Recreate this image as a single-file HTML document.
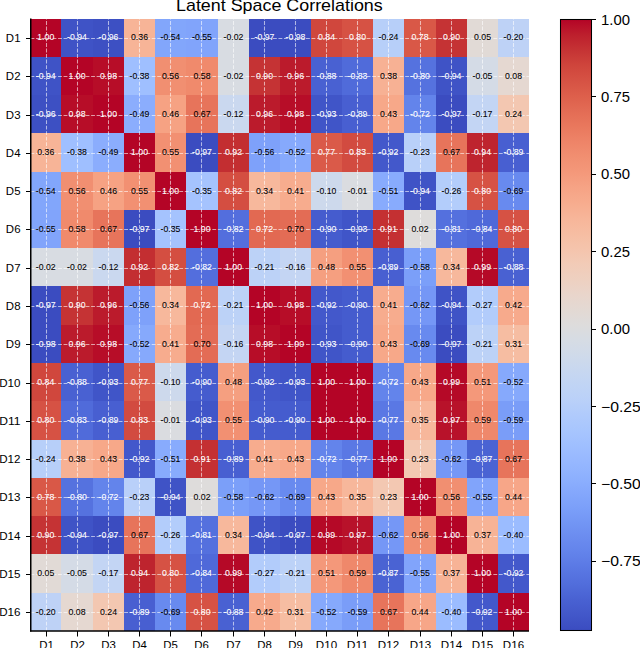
<!DOCTYPE html>
<html><head><meta charset="utf-8"><style>html,body{margin:0;padding:0;background:#fff;width:640px;height:648px;overflow:hidden}</style></head><body>
<svg width="640" height="648" viewBox="0 0 640 648" style="display:block;font-family:'Liberation Sans',sans-serif">
<rect width="640" height="648" fill="#fff"/>
<rect x="30.50" y="18.50" width="30.50" height="38.28" fill="#b40426" shape-rendering="crispEdges"/>
<rect x="61.00" y="18.50" width="32.00" height="38.28" fill="#3f53c6" shape-rendering="crispEdges"/>
<rect x="93.00" y="18.50" width="31.00" height="38.28" fill="#3d50c3" shape-rendering="crispEdges"/>
<rect x="124.00" y="18.50" width="31.00" height="38.28" fill="#f7b497" shape-rendering="crispEdges"/>
<rect x="155.00" y="18.50" width="31.00" height="38.28" fill="#82a6fb" shape-rendering="crispEdges"/>
<rect x="186.00" y="18.50" width="32.00" height="38.28" fill="#81a4fb" shape-rendering="crispEdges"/>
<rect x="218.00" y="18.50" width="31.00" height="38.28" fill="#d8dce2" shape-rendering="crispEdges"/>
<rect x="249.00" y="18.50" width="31.00" height="38.28" fill="#3b4cc0" shape-rendering="crispEdges"/>
<rect x="280.00" y="18.50" width="31.00" height="38.28" fill="#3b4cc0" shape-rendering="crispEdges"/>
<rect x="311.00" y="18.50" width="31.00" height="38.28" fill="#d0473d" shape-rendering="crispEdges"/>
<rect x="342.00" y="18.50" width="31.00" height="38.28" fill="#d65244" shape-rendering="crispEdges"/>
<rect x="373.00" y="18.50" width="31.00" height="38.28" fill="#b7cff9" shape-rendering="crispEdges"/>
<rect x="404.00" y="18.50" width="32.00" height="38.28" fill="#d95847" shape-rendering="crispEdges"/>
<rect x="436.00" y="18.50" width="31.00" height="38.28" fill="#c53334" shape-rendering="crispEdges"/>
<rect x="467.00" y="18.50" width="31.00" height="38.28" fill="#e1dad6" shape-rendering="crispEdges"/>
<rect x="498.00" y="18.50" width="31.00" height="38.28" fill="#bed2f6" shape-rendering="crispEdges"/>
<rect x="30.50" y="56.78" width="30.50" height="38.28" fill="#3f53c6" shape-rendering="crispEdges"/>
<rect x="61.00" y="56.78" width="32.00" height="38.28" fill="#b40426" shape-rendering="crispEdges"/>
<rect x="93.00" y="56.78" width="31.00" height="38.28" fill="#b70d28" shape-rendering="crispEdges"/>
<rect x="124.00" y="56.78" width="31.00" height="38.28" fill="#9fbfff" shape-rendering="crispEdges"/>
<rect x="155.00" y="56.78" width="31.00" height="38.28" fill="#f18f71" shape-rendering="crispEdges"/>
<rect x="186.00" y="56.78" width="32.00" height="38.28" fill="#f08a6c" shape-rendering="crispEdges"/>
<rect x="218.00" y="56.78" width="31.00" height="38.28" fill="#d8dce2" shape-rendering="crispEdges"/>
<rect x="249.00" y="56.78" width="31.00" height="38.28" fill="#c53334" shape-rendering="crispEdges"/>
<rect x="280.00" y="56.78" width="31.00" height="38.28" fill="#bb1b2c" shape-rendering="crispEdges"/>
<rect x="311.00" y="56.78" width="31.00" height="38.28" fill="#4961d2" shape-rendering="crispEdges"/>
<rect x="342.00" y="56.78" width="31.00" height="38.28" fill="#506bda" shape-rendering="crispEdges"/>
<rect x="373.00" y="56.78" width="31.00" height="38.28" fill="#f7b194" shape-rendering="crispEdges"/>
<rect x="404.00" y="56.78" width="32.00" height="38.28" fill="#5572df" shape-rendering="crispEdges"/>
<rect x="436.00" y="56.78" width="31.00" height="38.28" fill="#3f53c6" shape-rendering="crispEdges"/>
<rect x="467.00" y="56.78" width="31.00" height="38.28" fill="#d4dbe6" shape-rendering="crispEdges"/>
<rect x="498.00" y="56.78" width="31.00" height="38.28" fill="#e5d8d1" shape-rendering="crispEdges"/>
<rect x="30.50" y="95.06" width="30.50" height="38.28" fill="#3d50c3" shape-rendering="crispEdges"/>
<rect x="61.00" y="95.06" width="32.00" height="38.28" fill="#b70d28" shape-rendering="crispEdges"/>
<rect x="93.00" y="95.06" width="31.00" height="38.28" fill="#b40426" shape-rendering="crispEdges"/>
<rect x="124.00" y="95.06" width="31.00" height="38.28" fill="#8badfd" shape-rendering="crispEdges"/>
<rect x="155.00" y="95.06" width="31.00" height="38.28" fill="#f6a283" shape-rendering="crispEdges"/>
<rect x="186.00" y="95.06" width="32.00" height="38.28" fill="#e7745b" shape-rendering="crispEdges"/>
<rect x="218.00" y="95.06" width="31.00" height="38.28" fill="#cad8ef" shape-rendering="crispEdges"/>
<rect x="249.00" y="95.06" width="31.00" height="38.28" fill="#bb1b2c" shape-rendering="crispEdges"/>
<rect x="280.00" y="95.06" width="31.00" height="38.28" fill="#b70d28" shape-rendering="crispEdges"/>
<rect x="311.00" y="95.06" width="31.00" height="38.28" fill="#4055c8" shape-rendering="crispEdges"/>
<rect x="342.00" y="95.06" width="31.00" height="38.28" fill="#485fd1" shape-rendering="crispEdges"/>
<rect x="373.00" y="95.06" width="31.00" height="38.28" fill="#f7a889" shape-rendering="crispEdges"/>
<rect x="404.00" y="95.06" width="32.00" height="38.28" fill="#6384eb" shape-rendering="crispEdges"/>
<rect x="436.00" y="95.06" width="31.00" height="38.28" fill="#3b4cc0" shape-rendering="crispEdges"/>
<rect x="467.00" y="95.06" width="31.00" height="38.28" fill="#c3d5f4" shape-rendering="crispEdges"/>
<rect x="498.00" y="95.06" width="31.00" height="38.28" fill="#f3c7b1" shape-rendering="crispEdges"/>
<rect x="30.50" y="133.34" width="30.50" height="38.28" fill="#f7b497" shape-rendering="crispEdges"/>
<rect x="61.00" y="133.34" width="32.00" height="38.28" fill="#9fbfff" shape-rendering="crispEdges"/>
<rect x="93.00" y="133.34" width="31.00" height="38.28" fill="#8badfd" shape-rendering="crispEdges"/>
<rect x="124.00" y="133.34" width="31.00" height="38.28" fill="#b40426" shape-rendering="crispEdges"/>
<rect x="155.00" y="133.34" width="31.00" height="38.28" fill="#f29072" shape-rendering="crispEdges"/>
<rect x="186.00" y="133.34" width="32.00" height="38.28" fill="#3b4cc0" shape-rendering="crispEdges"/>
<rect x="218.00" y="133.34" width="31.00" height="38.28" fill="#c32e31" shape-rendering="crispEdges"/>
<rect x="249.00" y="133.34" width="31.00" height="38.28" fill="#7ea1fa" shape-rendering="crispEdges"/>
<rect x="280.00" y="133.34" width="31.00" height="38.28" fill="#86a9fc" shape-rendering="crispEdges"/>
<rect x="311.00" y="133.34" width="31.00" height="38.28" fill="#da5a49" shape-rendering="crispEdges"/>
<rect x="342.00" y="133.34" width="31.00" height="38.28" fill="#d24b40" shape-rendering="crispEdges"/>
<rect x="373.00" y="133.34" width="31.00" height="38.28" fill="#4358cb" shape-rendering="crispEdges"/>
<rect x="404.00" y="133.34" width="32.00" height="38.28" fill="#b9d0f9" shape-rendering="crispEdges"/>
<rect x="436.00" y="133.34" width="31.00" height="38.28" fill="#e7745b" shape-rendering="crispEdges"/>
<rect x="467.00" y="133.34" width="31.00" height="38.28" fill="#be242e" shape-rendering="crispEdges"/>
<rect x="498.00" y="133.34" width="31.00" height="38.28" fill="#485fd1" shape-rendering="crispEdges"/>
<rect x="30.50" y="171.62" width="30.50" height="38.28" fill="#82a6fb" shape-rendering="crispEdges"/>
<rect x="61.00" y="171.62" width="32.00" height="38.28" fill="#f18f71" shape-rendering="crispEdges"/>
<rect x="93.00" y="171.62" width="31.00" height="38.28" fill="#f6a283" shape-rendering="crispEdges"/>
<rect x="124.00" y="171.62" width="31.00" height="38.28" fill="#f29072" shape-rendering="crispEdges"/>
<rect x="155.00" y="171.62" width="31.00" height="38.28" fill="#b40426" shape-rendering="crispEdges"/>
<rect x="186.00" y="171.62" width="32.00" height="38.28" fill="#a5c3fe" shape-rendering="crispEdges"/>
<rect x="218.00" y="171.62" width="31.00" height="38.28" fill="#d44e41" shape-rendering="crispEdges"/>
<rect x="249.00" y="171.62" width="31.00" height="38.28" fill="#f7b89c" shape-rendering="crispEdges"/>
<rect x="280.00" y="171.62" width="31.00" height="38.28" fill="#f7ac8e" shape-rendering="crispEdges"/>
<rect x="311.00" y="171.62" width="31.00" height="38.28" fill="#cdd9ec" shape-rendering="crispEdges"/>
<rect x="342.00" y="171.62" width="31.00" height="38.28" fill="#dadce0" shape-rendering="crispEdges"/>
<rect x="373.00" y="171.62" width="31.00" height="38.28" fill="#88abfd" shape-rendering="crispEdges"/>
<rect x="404.00" y="171.62" width="32.00" height="38.28" fill="#3f53c6" shape-rendering="crispEdges"/>
<rect x="436.00" y="171.62" width="31.00" height="38.28" fill="#b3cdfb" shape-rendering="crispEdges"/>
<rect x="467.00" y="171.62" width="31.00" height="38.28" fill="#d65244" shape-rendering="crispEdges"/>
<rect x="498.00" y="171.62" width="31.00" height="38.28" fill="#688aef" shape-rendering="crispEdges"/>
<rect x="30.50" y="209.91" width="30.50" height="38.28" fill="#81a4fb" shape-rendering="crispEdges"/>
<rect x="61.00" y="209.91" width="32.00" height="38.28" fill="#f08a6c" shape-rendering="crispEdges"/>
<rect x="93.00" y="209.91" width="31.00" height="38.28" fill="#e7745b" shape-rendering="crispEdges"/>
<rect x="124.00" y="209.91" width="31.00" height="38.28" fill="#3b4cc0" shape-rendering="crispEdges"/>
<rect x="155.00" y="209.91" width="31.00" height="38.28" fill="#a5c3fe" shape-rendering="crispEdges"/>
<rect x="186.00" y="209.91" width="32.00" height="38.28" fill="#b40426" shape-rendering="crispEdges"/>
<rect x="218.00" y="209.91" width="31.00" height="38.28" fill="#536edd" shape-rendering="crispEdges"/>
<rect x="249.00" y="209.91" width="31.00" height="38.28" fill="#e26952" shape-rendering="crispEdges"/>
<rect x="280.00" y="209.91" width="31.00" height="38.28" fill="#e36c55" shape-rendering="crispEdges"/>
<rect x="311.00" y="209.91" width="31.00" height="38.28" fill="#455cce" shape-rendering="crispEdges"/>
<rect x="342.00" y="209.91" width="31.00" height="38.28" fill="#4055c8" shape-rendering="crispEdges"/>
<rect x="373.00" y="209.91" width="31.00" height="38.28" fill="#c43032" shape-rendering="crispEdges"/>
<rect x="404.00" y="209.91" width="32.00" height="38.28" fill="#dedcdb" shape-rendering="crispEdges"/>
<rect x="436.00" y="209.91" width="31.00" height="38.28" fill="#5470de" shape-rendering="crispEdges"/>
<rect x="467.00" y="209.91" width="31.00" height="38.28" fill="#4f69d9" shape-rendering="crispEdges"/>
<rect x="498.00" y="209.91" width="31.00" height="38.28" fill="#d65244" shape-rendering="crispEdges"/>
<rect x="30.50" y="248.19" width="30.50" height="38.28" fill="#d8dce2" shape-rendering="crispEdges"/>
<rect x="61.00" y="248.19" width="32.00" height="38.28" fill="#d8dce2" shape-rendering="crispEdges"/>
<rect x="93.00" y="248.19" width="31.00" height="38.28" fill="#cad8ef" shape-rendering="crispEdges"/>
<rect x="124.00" y="248.19" width="31.00" height="38.28" fill="#c32e31" shape-rendering="crispEdges"/>
<rect x="155.00" y="248.19" width="31.00" height="38.28" fill="#d44e41" shape-rendering="crispEdges"/>
<rect x="186.00" y="248.19" width="32.00" height="38.28" fill="#536edd" shape-rendering="crispEdges"/>
<rect x="218.00" y="248.19" width="31.00" height="38.28" fill="#b40426" shape-rendering="crispEdges"/>
<rect x="249.00" y="248.19" width="31.00" height="38.28" fill="#bcd2f7" shape-rendering="crispEdges"/>
<rect x="280.00" y="248.19" width="31.00" height="38.28" fill="#c4d5f3" shape-rendering="crispEdges"/>
<rect x="311.00" y="248.19" width="31.00" height="38.28" fill="#f59f80" shape-rendering="crispEdges"/>
<rect x="342.00" y="248.19" width="31.00" height="38.28" fill="#f29072" shape-rendering="crispEdges"/>
<rect x="373.00" y="248.19" width="31.00" height="38.28" fill="#485fd1" shape-rendering="crispEdges"/>
<rect x="404.00" y="248.19" width="32.00" height="38.28" fill="#7b9ff9" shape-rendering="crispEdges"/>
<rect x="436.00" y="248.19" width="31.00" height="38.28" fill="#f7b89c" shape-rendering="crispEdges"/>
<rect x="467.00" y="248.19" width="31.00" height="38.28" fill="#b50927" shape-rendering="crispEdges"/>
<rect x="498.00" y="248.19" width="31.00" height="38.28" fill="#4961d2" shape-rendering="crispEdges"/>
<rect x="30.50" y="286.47" width="30.50" height="38.28" fill="#3b4cc0" shape-rendering="crispEdges"/>
<rect x="61.00" y="286.47" width="32.00" height="38.28" fill="#c53334" shape-rendering="crispEdges"/>
<rect x="93.00" y="286.47" width="31.00" height="38.28" fill="#bb1b2c" shape-rendering="crispEdges"/>
<rect x="124.00" y="286.47" width="31.00" height="38.28" fill="#7ea1fa" shape-rendering="crispEdges"/>
<rect x="155.00" y="286.47" width="31.00" height="38.28" fill="#f7b89c" shape-rendering="crispEdges"/>
<rect x="186.00" y="286.47" width="32.00" height="38.28" fill="#e26952" shape-rendering="crispEdges"/>
<rect x="218.00" y="286.47" width="31.00" height="38.28" fill="#bcd2f7" shape-rendering="crispEdges"/>
<rect x="249.00" y="286.47" width="31.00" height="38.28" fill="#b40426" shape-rendering="crispEdges"/>
<rect x="280.00" y="286.47" width="31.00" height="38.28" fill="#b70d28" shape-rendering="crispEdges"/>
<rect x="311.00" y="286.47" width="31.00" height="38.28" fill="#4358cb" shape-rendering="crispEdges"/>
<rect x="342.00" y="286.47" width="31.00" height="38.28" fill="#455cce" shape-rendering="crispEdges"/>
<rect x="373.00" y="286.47" width="31.00" height="38.28" fill="#f7ac8e" shape-rendering="crispEdges"/>
<rect x="404.00" y="286.47" width="32.00" height="38.28" fill="#7597f6" shape-rendering="crispEdges"/>
<rect x="436.00" y="286.47" width="31.00" height="38.28" fill="#3f53c6" shape-rendering="crispEdges"/>
<rect x="467.00" y="286.47" width="31.00" height="38.28" fill="#b2ccfb" shape-rendering="crispEdges"/>
<rect x="498.00" y="286.47" width="31.00" height="38.28" fill="#f7aa8c" shape-rendering="crispEdges"/>
<rect x="30.50" y="324.75" width="30.50" height="38.28" fill="#3b4cc0" shape-rendering="crispEdges"/>
<rect x="61.00" y="324.75" width="32.00" height="38.28" fill="#bb1b2c" shape-rendering="crispEdges"/>
<rect x="93.00" y="324.75" width="31.00" height="38.28" fill="#b70d28" shape-rendering="crispEdges"/>
<rect x="124.00" y="324.75" width="31.00" height="38.28" fill="#86a9fc" shape-rendering="crispEdges"/>
<rect x="155.00" y="324.75" width="31.00" height="38.28" fill="#f7ac8e" shape-rendering="crispEdges"/>
<rect x="186.00" y="324.75" width="32.00" height="38.28" fill="#e36c55" shape-rendering="crispEdges"/>
<rect x="218.00" y="324.75" width="31.00" height="38.28" fill="#c4d5f3" shape-rendering="crispEdges"/>
<rect x="249.00" y="324.75" width="31.00" height="38.28" fill="#b70d28" shape-rendering="crispEdges"/>
<rect x="280.00" y="324.75" width="31.00" height="38.28" fill="#b40426" shape-rendering="crispEdges"/>
<rect x="311.00" y="324.75" width="31.00" height="38.28" fill="#4055c8" shape-rendering="crispEdges"/>
<rect x="342.00" y="324.75" width="31.00" height="38.28" fill="#455cce" shape-rendering="crispEdges"/>
<rect x="373.00" y="324.75" width="31.00" height="38.28" fill="#f7a889" shape-rendering="crispEdges"/>
<rect x="404.00" y="324.75" width="32.00" height="38.28" fill="#688aef" shape-rendering="crispEdges"/>
<rect x="436.00" y="324.75" width="31.00" height="38.28" fill="#3b4cc0" shape-rendering="crispEdges"/>
<rect x="467.00" y="324.75" width="31.00" height="38.28" fill="#bcd2f7" shape-rendering="crispEdges"/>
<rect x="498.00" y="324.75" width="31.00" height="38.28" fill="#f6bda2" shape-rendering="crispEdges"/>
<rect x="30.50" y="363.03" width="30.50" height="38.28" fill="#d0473d" shape-rendering="crispEdges"/>
<rect x="61.00" y="363.03" width="32.00" height="38.28" fill="#4961d2" shape-rendering="crispEdges"/>
<rect x="93.00" y="363.03" width="31.00" height="38.28" fill="#4055c8" shape-rendering="crispEdges"/>
<rect x="124.00" y="363.03" width="31.00" height="38.28" fill="#da5a49" shape-rendering="crispEdges"/>
<rect x="155.00" y="363.03" width="31.00" height="38.28" fill="#cdd9ec" shape-rendering="crispEdges"/>
<rect x="186.00" y="363.03" width="32.00" height="38.28" fill="#455cce" shape-rendering="crispEdges"/>
<rect x="218.00" y="363.03" width="31.00" height="38.28" fill="#f59f80" shape-rendering="crispEdges"/>
<rect x="249.00" y="363.03" width="31.00" height="38.28" fill="#4358cb" shape-rendering="crispEdges"/>
<rect x="280.00" y="363.03" width="31.00" height="38.28" fill="#4055c8" shape-rendering="crispEdges"/>
<rect x="311.00" y="363.03" width="31.00" height="38.28" fill="#b40426" shape-rendering="crispEdges"/>
<rect x="342.00" y="363.03" width="31.00" height="38.28" fill="#b40426" shape-rendering="crispEdges"/>
<rect x="373.00" y="363.03" width="31.00" height="38.28" fill="#6384eb" shape-rendering="crispEdges"/>
<rect x="404.00" y="363.03" width="32.00" height="38.28" fill="#f7a889" shape-rendering="crispEdges"/>
<rect x="436.00" y="363.03" width="31.00" height="38.28" fill="#b50927" shape-rendering="crispEdges"/>
<rect x="467.00" y="363.03" width="31.00" height="38.28" fill="#f4987a" shape-rendering="crispEdges"/>
<rect x="498.00" y="363.03" width="31.00" height="38.28" fill="#86a9fc" shape-rendering="crispEdges"/>
<rect x="30.50" y="401.31" width="30.50" height="38.28" fill="#d65244" shape-rendering="crispEdges"/>
<rect x="61.00" y="401.31" width="32.00" height="38.28" fill="#506bda" shape-rendering="crispEdges"/>
<rect x="93.00" y="401.31" width="31.00" height="38.28" fill="#485fd1" shape-rendering="crispEdges"/>
<rect x="124.00" y="401.31" width="31.00" height="38.28" fill="#d24b40" shape-rendering="crispEdges"/>
<rect x="155.00" y="401.31" width="31.00" height="38.28" fill="#dadce0" shape-rendering="crispEdges"/>
<rect x="186.00" y="401.31" width="32.00" height="38.28" fill="#4055c8" shape-rendering="crispEdges"/>
<rect x="218.00" y="401.31" width="31.00" height="38.28" fill="#f29072" shape-rendering="crispEdges"/>
<rect x="249.00" y="401.31" width="31.00" height="38.28" fill="#455cce" shape-rendering="crispEdges"/>
<rect x="280.00" y="401.31" width="31.00" height="38.28" fill="#455cce" shape-rendering="crispEdges"/>
<rect x="311.00" y="401.31" width="31.00" height="38.28" fill="#b40426" shape-rendering="crispEdges"/>
<rect x="342.00" y="401.31" width="31.00" height="38.28" fill="#b40426" shape-rendering="crispEdges"/>
<rect x="373.00" y="401.31" width="31.00" height="38.28" fill="#5a78e4" shape-rendering="crispEdges"/>
<rect x="404.00" y="401.31" width="32.00" height="38.28" fill="#f7b79b" shape-rendering="crispEdges"/>
<rect x="436.00" y="401.31" width="31.00" height="38.28" fill="#b8122a" shape-rendering="crispEdges"/>
<rect x="467.00" y="401.31" width="31.00" height="38.28" fill="#ef886b" shape-rendering="crispEdges"/>
<rect x="498.00" y="401.31" width="31.00" height="38.28" fill="#7a9df8" shape-rendering="crispEdges"/>
<rect x="30.50" y="439.59" width="30.50" height="38.28" fill="#b7cff9" shape-rendering="crispEdges"/>
<rect x="61.00" y="439.59" width="32.00" height="38.28" fill="#f7b194" shape-rendering="crispEdges"/>
<rect x="93.00" y="439.59" width="31.00" height="38.28" fill="#f7a889" shape-rendering="crispEdges"/>
<rect x="124.00" y="439.59" width="31.00" height="38.28" fill="#4358cb" shape-rendering="crispEdges"/>
<rect x="155.00" y="439.59" width="31.00" height="38.28" fill="#88abfd" shape-rendering="crispEdges"/>
<rect x="186.00" y="439.59" width="32.00" height="38.28" fill="#c43032" shape-rendering="crispEdges"/>
<rect x="218.00" y="439.59" width="31.00" height="38.28" fill="#485fd1" shape-rendering="crispEdges"/>
<rect x="249.00" y="439.59" width="31.00" height="38.28" fill="#f7ac8e" shape-rendering="crispEdges"/>
<rect x="280.00" y="439.59" width="31.00" height="38.28" fill="#f7a889" shape-rendering="crispEdges"/>
<rect x="311.00" y="439.59" width="31.00" height="38.28" fill="#6384eb" shape-rendering="crispEdges"/>
<rect x="342.00" y="439.59" width="31.00" height="38.28" fill="#5a78e4" shape-rendering="crispEdges"/>
<rect x="373.00" y="439.59" width="31.00" height="38.28" fill="#b40426" shape-rendering="crispEdges"/>
<rect x="404.00" y="439.59" width="32.00" height="38.28" fill="#f3c8b2" shape-rendering="crispEdges"/>
<rect x="436.00" y="439.59" width="31.00" height="38.28" fill="#7597f6" shape-rendering="crispEdges"/>
<rect x="467.00" y="439.59" width="31.00" height="38.28" fill="#4a63d3" shape-rendering="crispEdges"/>
<rect x="498.00" y="439.59" width="31.00" height="38.28" fill="#e7745b" shape-rendering="crispEdges"/>
<rect x="30.50" y="477.88" width="30.50" height="38.28" fill="#d95847" shape-rendering="crispEdges"/>
<rect x="61.00" y="477.88" width="32.00" height="38.28" fill="#5572df" shape-rendering="crispEdges"/>
<rect x="93.00" y="477.88" width="31.00" height="38.28" fill="#6384eb" shape-rendering="crispEdges"/>
<rect x="124.00" y="477.88" width="31.00" height="38.28" fill="#b9d0f9" shape-rendering="crispEdges"/>
<rect x="155.00" y="477.88" width="31.00" height="38.28" fill="#3f53c6" shape-rendering="crispEdges"/>
<rect x="186.00" y="477.88" width="32.00" height="38.28" fill="#dedcdb" shape-rendering="crispEdges"/>
<rect x="218.00" y="477.88" width="31.00" height="38.28" fill="#7b9ff9" shape-rendering="crispEdges"/>
<rect x="249.00" y="477.88" width="31.00" height="38.28" fill="#7597f6" shape-rendering="crispEdges"/>
<rect x="280.00" y="477.88" width="31.00" height="38.28" fill="#688aef" shape-rendering="crispEdges"/>
<rect x="311.00" y="477.88" width="31.00" height="38.28" fill="#f7a889" shape-rendering="crispEdges"/>
<rect x="342.00" y="477.88" width="31.00" height="38.28" fill="#f7b79b" shape-rendering="crispEdges"/>
<rect x="373.00" y="477.88" width="31.00" height="38.28" fill="#f3c8b2" shape-rendering="crispEdges"/>
<rect x="404.00" y="477.88" width="32.00" height="38.28" fill="#b40426" shape-rendering="crispEdges"/>
<rect x="436.00" y="477.88" width="31.00" height="38.28" fill="#f18f71" shape-rendering="crispEdges"/>
<rect x="467.00" y="477.88" width="31.00" height="38.28" fill="#81a4fb" shape-rendering="crispEdges"/>
<rect x="498.00" y="477.88" width="31.00" height="38.28" fill="#f7a688" shape-rendering="crispEdges"/>
<rect x="30.50" y="516.16" width="30.50" height="38.28" fill="#c53334" shape-rendering="crispEdges"/>
<rect x="61.00" y="516.16" width="32.00" height="38.28" fill="#3f53c6" shape-rendering="crispEdges"/>
<rect x="93.00" y="516.16" width="31.00" height="38.28" fill="#3b4cc0" shape-rendering="crispEdges"/>
<rect x="124.00" y="516.16" width="31.00" height="38.28" fill="#e7745b" shape-rendering="crispEdges"/>
<rect x="155.00" y="516.16" width="31.00" height="38.28" fill="#b3cdfb" shape-rendering="crispEdges"/>
<rect x="186.00" y="516.16" width="32.00" height="38.28" fill="#5470de" shape-rendering="crispEdges"/>
<rect x="218.00" y="516.16" width="31.00" height="38.28" fill="#f7b89c" shape-rendering="crispEdges"/>
<rect x="249.00" y="516.16" width="31.00" height="38.28" fill="#3f53c6" shape-rendering="crispEdges"/>
<rect x="280.00" y="516.16" width="31.00" height="38.28" fill="#3b4cc0" shape-rendering="crispEdges"/>
<rect x="311.00" y="516.16" width="31.00" height="38.28" fill="#b50927" shape-rendering="crispEdges"/>
<rect x="342.00" y="516.16" width="31.00" height="38.28" fill="#b8122a" shape-rendering="crispEdges"/>
<rect x="373.00" y="516.16" width="31.00" height="38.28" fill="#7597f6" shape-rendering="crispEdges"/>
<rect x="404.00" y="516.16" width="32.00" height="38.28" fill="#f18f71" shape-rendering="crispEdges"/>
<rect x="436.00" y="516.16" width="31.00" height="38.28" fill="#b40426" shape-rendering="crispEdges"/>
<rect x="467.00" y="516.16" width="31.00" height="38.28" fill="#f7b396" shape-rendering="crispEdges"/>
<rect x="498.00" y="516.16" width="31.00" height="38.28" fill="#9bbcff" shape-rendering="crispEdges"/>
<rect x="30.50" y="554.44" width="30.50" height="38.28" fill="#e1dad6" shape-rendering="crispEdges"/>
<rect x="61.00" y="554.44" width="32.00" height="38.28" fill="#d4dbe6" shape-rendering="crispEdges"/>
<rect x="93.00" y="554.44" width="31.00" height="38.28" fill="#c3d5f4" shape-rendering="crispEdges"/>
<rect x="124.00" y="554.44" width="31.00" height="38.28" fill="#be242e" shape-rendering="crispEdges"/>
<rect x="155.00" y="554.44" width="31.00" height="38.28" fill="#d65244" shape-rendering="crispEdges"/>
<rect x="186.00" y="554.44" width="32.00" height="38.28" fill="#4f69d9" shape-rendering="crispEdges"/>
<rect x="218.00" y="554.44" width="31.00" height="38.28" fill="#b50927" shape-rendering="crispEdges"/>
<rect x="249.00" y="554.44" width="31.00" height="38.28" fill="#b2ccfb" shape-rendering="crispEdges"/>
<rect x="280.00" y="554.44" width="31.00" height="38.28" fill="#bcd2f7" shape-rendering="crispEdges"/>
<rect x="311.00" y="554.44" width="31.00" height="38.28" fill="#f4987a" shape-rendering="crispEdges"/>
<rect x="342.00" y="554.44" width="31.00" height="38.28" fill="#ef886b" shape-rendering="crispEdges"/>
<rect x="373.00" y="554.44" width="31.00" height="38.28" fill="#4a63d3" shape-rendering="crispEdges"/>
<rect x="404.00" y="554.44" width="32.00" height="38.28" fill="#81a4fb" shape-rendering="crispEdges"/>
<rect x="436.00" y="554.44" width="31.00" height="38.28" fill="#f7b396" shape-rendering="crispEdges"/>
<rect x="467.00" y="554.44" width="31.00" height="38.28" fill="#b40426" shape-rendering="crispEdges"/>
<rect x="498.00" y="554.44" width="31.00" height="38.28" fill="#4358cb" shape-rendering="crispEdges"/>
<rect x="30.50" y="592.72" width="30.50" height="38.28" fill="#bed2f6" shape-rendering="crispEdges"/>
<rect x="61.00" y="592.72" width="32.00" height="38.28" fill="#e5d8d1" shape-rendering="crispEdges"/>
<rect x="93.00" y="592.72" width="31.00" height="38.28" fill="#f3c7b1" shape-rendering="crispEdges"/>
<rect x="124.00" y="592.72" width="31.00" height="38.28" fill="#485fd1" shape-rendering="crispEdges"/>
<rect x="155.00" y="592.72" width="31.00" height="38.28" fill="#688aef" shape-rendering="crispEdges"/>
<rect x="186.00" y="592.72" width="32.00" height="38.28" fill="#d65244" shape-rendering="crispEdges"/>
<rect x="218.00" y="592.72" width="31.00" height="38.28" fill="#4961d2" shape-rendering="crispEdges"/>
<rect x="249.00" y="592.72" width="31.00" height="38.28" fill="#f7aa8c" shape-rendering="crispEdges"/>
<rect x="280.00" y="592.72" width="31.00" height="38.28" fill="#f6bda2" shape-rendering="crispEdges"/>
<rect x="311.00" y="592.72" width="31.00" height="38.28" fill="#86a9fc" shape-rendering="crispEdges"/>
<rect x="342.00" y="592.72" width="31.00" height="38.28" fill="#7a9df8" shape-rendering="crispEdges"/>
<rect x="373.00" y="592.72" width="31.00" height="38.28" fill="#e7745b" shape-rendering="crispEdges"/>
<rect x="404.00" y="592.72" width="32.00" height="38.28" fill="#f7a688" shape-rendering="crispEdges"/>
<rect x="436.00" y="592.72" width="31.00" height="38.28" fill="#9bbcff" shape-rendering="crispEdges"/>
<rect x="467.00" y="592.72" width="31.00" height="38.28" fill="#4358cb" shape-rendering="crispEdges"/>
<rect x="498.00" y="592.72" width="31.00" height="38.28" fill="#b40426" shape-rendering="crispEdges"/>
<line x1="46.50" y1="631.00" x2="46.50" y2="18.50" stroke="#fff" stroke-opacity="0.6" stroke-width="1.04" stroke-dasharray="3.85 1.66"/>
<line x1="77.50" y1="631.00" x2="77.50" y2="18.50" stroke="#fff" stroke-opacity="0.6" stroke-width="1.04" stroke-dasharray="3.85 1.66"/>
<line x1="108.50" y1="631.00" x2="108.50" y2="18.50" stroke="#fff" stroke-opacity="0.6" stroke-width="1.04" stroke-dasharray="3.85 1.66"/>
<line x1="139.50" y1="631.00" x2="139.50" y2="18.50" stroke="#fff" stroke-opacity="0.6" stroke-width="1.04" stroke-dasharray="3.85 1.66"/>
<line x1="170.50" y1="631.00" x2="170.50" y2="18.50" stroke="#fff" stroke-opacity="0.6" stroke-width="1.04" stroke-dasharray="3.85 1.66"/>
<line x1="201.50" y1="631.00" x2="201.50" y2="18.50" stroke="#fff" stroke-opacity="0.6" stroke-width="1.04" stroke-dasharray="3.85 1.66"/>
<line x1="233.50" y1="631.00" x2="233.50" y2="18.50" stroke="#fff" stroke-opacity="0.6" stroke-width="1.04" stroke-dasharray="3.85 1.66"/>
<line x1="264.50" y1="631.00" x2="264.50" y2="18.50" stroke="#fff" stroke-opacity="0.6" stroke-width="1.04" stroke-dasharray="3.85 1.66"/>
<line x1="295.50" y1="631.00" x2="295.50" y2="18.50" stroke="#fff" stroke-opacity="0.6" stroke-width="1.04" stroke-dasharray="3.85 1.66"/>
<line x1="326.50" y1="631.00" x2="326.50" y2="18.50" stroke="#fff" stroke-opacity="0.6" stroke-width="1.04" stroke-dasharray="3.85 1.66"/>
<line x1="357.50" y1="631.00" x2="357.50" y2="18.50" stroke="#fff" stroke-opacity="0.6" stroke-width="1.04" stroke-dasharray="3.85 1.66"/>
<line x1="388.50" y1="631.00" x2="388.50" y2="18.50" stroke="#fff" stroke-opacity="0.6" stroke-width="1.04" stroke-dasharray="3.85 1.66"/>
<line x1="420.50" y1="631.00" x2="420.50" y2="18.50" stroke="#fff" stroke-opacity="0.6" stroke-width="1.04" stroke-dasharray="3.85 1.66"/>
<line x1="451.50" y1="631.00" x2="451.50" y2="18.50" stroke="#fff" stroke-opacity="0.6" stroke-width="1.04" stroke-dasharray="3.85 1.66"/>
<line x1="482.50" y1="631.00" x2="482.50" y2="18.50" stroke="#fff" stroke-opacity="0.6" stroke-width="1.04" stroke-dasharray="3.85 1.66"/>
<line x1="513.50" y1="631.00" x2="513.50" y2="18.50" stroke="#fff" stroke-opacity="0.6" stroke-width="1.04" stroke-dasharray="3.85 1.66"/>
<line x1="30.50" y1="38.50" x2="529.00" y2="38.50" stroke="#fff" stroke-opacity="0.6" stroke-width="1.04" stroke-dasharray="3.85 1.66"/>
<line x1="30.50" y1="76.50" x2="529.00" y2="76.50" stroke="#fff" stroke-opacity="0.6" stroke-width="1.04" stroke-dasharray="3.85 1.66"/>
<line x1="30.50" y1="115.50" x2="529.00" y2="115.50" stroke="#fff" stroke-opacity="0.6" stroke-width="1.04" stroke-dasharray="3.85 1.66"/>
<line x1="30.50" y1="153.50" x2="529.00" y2="153.50" stroke="#fff" stroke-opacity="0.6" stroke-width="1.04" stroke-dasharray="3.85 1.66"/>
<line x1="30.50" y1="191.50" x2="529.00" y2="191.50" stroke="#fff" stroke-opacity="0.6" stroke-width="1.04" stroke-dasharray="3.85 1.66"/>
<line x1="30.50" y1="229.50" x2="529.00" y2="229.50" stroke="#fff" stroke-opacity="0.6" stroke-width="1.04" stroke-dasharray="3.85 1.66"/>
<line x1="30.50" y1="268.50" x2="529.00" y2="268.50" stroke="#fff" stroke-opacity="0.6" stroke-width="1.04" stroke-dasharray="3.85 1.66"/>
<line x1="30.50" y1="306.50" x2="529.00" y2="306.50" stroke="#fff" stroke-opacity="0.6" stroke-width="1.04" stroke-dasharray="3.85 1.66"/>
<line x1="30.50" y1="344.50" x2="529.00" y2="344.50" stroke="#fff" stroke-opacity="0.6" stroke-width="1.04" stroke-dasharray="3.85 1.66"/>
<line x1="30.50" y1="383.50" x2="529.00" y2="383.50" stroke="#fff" stroke-opacity="0.6" stroke-width="1.04" stroke-dasharray="3.85 1.66"/>
<line x1="30.50" y1="421.50" x2="529.00" y2="421.50" stroke="#fff" stroke-opacity="0.6" stroke-width="1.04" stroke-dasharray="3.85 1.66"/>
<line x1="30.50" y1="459.50" x2="529.00" y2="459.50" stroke="#fff" stroke-opacity="0.6" stroke-width="1.04" stroke-dasharray="3.85 1.66"/>
<line x1="30.50" y1="497.50" x2="529.00" y2="497.50" stroke="#fff" stroke-opacity="0.6" stroke-width="1.04" stroke-dasharray="3.85 1.66"/>
<line x1="30.50" y1="536.50" x2="529.00" y2="536.50" stroke="#fff" stroke-opacity="0.6" stroke-width="1.04" stroke-dasharray="3.85 1.66"/>
<line x1="30.50" y1="574.50" x2="529.00" y2="574.50" stroke="#fff" stroke-opacity="0.6" stroke-width="1.04" stroke-dasharray="3.85 1.66"/>
<line x1="30.50" y1="612.50" x2="529.00" y2="612.50" stroke="#fff" stroke-opacity="0.6" stroke-width="1.04" stroke-dasharray="3.85 1.66"/>
<text x="45.75" y="40.48" font-size="9.43" fill="#fff" stroke="#fff" stroke-width="0.08" text-anchor="middle" textLength="17.04" lengthAdjust="spacingAndGlyphs">1.00</text>
<text x="77.00" y="40.48" font-size="9.43" fill="#fff" stroke="#fff" stroke-width="0.08" text-anchor="middle" textLength="19.80" lengthAdjust="spacingAndGlyphs">-0.94</text>
<text x="108.50" y="40.48" font-size="9.43" fill="#fff" stroke="#fff" stroke-width="0.08" text-anchor="middle" textLength="19.80" lengthAdjust="spacingAndGlyphs">-0.96</text>
<text x="139.50" y="40.48" font-size="9.43" fill="#000" stroke="#000" stroke-width="0.08" text-anchor="middle" textLength="17.04" lengthAdjust="spacingAndGlyphs">0.36</text>
<text x="170.50" y="40.48" font-size="9.43" fill="#000" stroke="#000" stroke-width="0.08" text-anchor="middle" textLength="19.80" lengthAdjust="spacingAndGlyphs">-0.54</text>
<text x="202.00" y="40.48" font-size="9.43" fill="#000" stroke="#000" stroke-width="0.08" text-anchor="middle" textLength="19.80" lengthAdjust="spacingAndGlyphs">-0.55</text>
<text x="233.50" y="40.48" font-size="9.43" fill="#000" stroke="#000" stroke-width="0.08" text-anchor="middle" textLength="19.80" lengthAdjust="spacingAndGlyphs">-0.02</text>
<text x="264.50" y="40.48" font-size="9.43" fill="#fff" stroke="#fff" stroke-width="0.08" text-anchor="middle" textLength="19.80" lengthAdjust="spacingAndGlyphs">-0.97</text>
<text x="295.50" y="40.48" font-size="9.43" fill="#fff" stroke="#fff" stroke-width="0.08" text-anchor="middle" textLength="19.80" lengthAdjust="spacingAndGlyphs">-0.98</text>
<text x="326.50" y="40.48" font-size="9.43" fill="#fff" stroke="#fff" stroke-width="0.08" text-anchor="middle" textLength="17.04" lengthAdjust="spacingAndGlyphs">0.84</text>
<text x="357.50" y="40.48" font-size="9.43" fill="#fff" stroke="#fff" stroke-width="0.08" text-anchor="middle" textLength="17.04" lengthAdjust="spacingAndGlyphs">0.80</text>
<text x="388.50" y="40.48" font-size="9.43" fill="#000" stroke="#000" stroke-width="0.08" text-anchor="middle" textLength="19.80" lengthAdjust="spacingAndGlyphs">-0.24</text>
<text x="420.00" y="40.48" font-size="9.43" fill="#fff" stroke="#fff" stroke-width="0.08" text-anchor="middle" textLength="17.04" lengthAdjust="spacingAndGlyphs">0.78</text>
<text x="451.50" y="40.48" font-size="9.43" fill="#fff" stroke="#fff" stroke-width="0.08" text-anchor="middle" textLength="17.04" lengthAdjust="spacingAndGlyphs">0.90</text>
<text x="482.50" y="40.48" font-size="9.43" fill="#000" stroke="#000" stroke-width="0.08" text-anchor="middle" textLength="17.04" lengthAdjust="spacingAndGlyphs">0.05</text>
<text x="513.50" y="40.48" font-size="9.43" fill="#000" stroke="#000" stroke-width="0.08" text-anchor="middle" textLength="19.80" lengthAdjust="spacingAndGlyphs">-0.20</text>
<text x="45.75" y="78.77" font-size="9.43" fill="#fff" stroke="#fff" stroke-width="0.08" text-anchor="middle" textLength="19.80" lengthAdjust="spacingAndGlyphs">-0.94</text>
<text x="77.00" y="78.77" font-size="9.43" fill="#fff" stroke="#fff" stroke-width="0.08" text-anchor="middle" textLength="17.04" lengthAdjust="spacingAndGlyphs">1.00</text>
<text x="108.50" y="78.77" font-size="9.43" fill="#fff" stroke="#fff" stroke-width="0.08" text-anchor="middle" textLength="17.04" lengthAdjust="spacingAndGlyphs">0.98</text>
<text x="139.50" y="78.77" font-size="9.43" fill="#000" stroke="#000" stroke-width="0.08" text-anchor="middle" textLength="19.80" lengthAdjust="spacingAndGlyphs">-0.38</text>
<text x="170.50" y="78.77" font-size="9.43" fill="#000" stroke="#000" stroke-width="0.08" text-anchor="middle" textLength="17.04" lengthAdjust="spacingAndGlyphs">0.56</text>
<text x="202.00" y="78.77" font-size="9.43" fill="#000" stroke="#000" stroke-width="0.08" text-anchor="middle" textLength="17.04" lengthAdjust="spacingAndGlyphs">0.58</text>
<text x="233.50" y="78.77" font-size="9.43" fill="#000" stroke="#000" stroke-width="0.08" text-anchor="middle" textLength="19.80" lengthAdjust="spacingAndGlyphs">-0.02</text>
<text x="264.50" y="78.77" font-size="9.43" fill="#fff" stroke="#fff" stroke-width="0.08" text-anchor="middle" textLength="17.04" lengthAdjust="spacingAndGlyphs">0.90</text>
<text x="295.50" y="78.77" font-size="9.43" fill="#fff" stroke="#fff" stroke-width="0.08" text-anchor="middle" textLength="17.04" lengthAdjust="spacingAndGlyphs">0.96</text>
<text x="326.50" y="78.77" font-size="9.43" fill="#fff" stroke="#fff" stroke-width="0.08" text-anchor="middle" textLength="19.80" lengthAdjust="spacingAndGlyphs">-0.88</text>
<text x="357.50" y="78.77" font-size="9.43" fill="#fff" stroke="#fff" stroke-width="0.08" text-anchor="middle" textLength="19.80" lengthAdjust="spacingAndGlyphs">-0.83</text>
<text x="388.50" y="78.77" font-size="9.43" fill="#000" stroke="#000" stroke-width="0.08" text-anchor="middle" textLength="17.04" lengthAdjust="spacingAndGlyphs">0.38</text>
<text x="420.00" y="78.77" font-size="9.43" fill="#fff" stroke="#fff" stroke-width="0.08" text-anchor="middle" textLength="19.80" lengthAdjust="spacingAndGlyphs">-0.80</text>
<text x="451.50" y="78.77" font-size="9.43" fill="#fff" stroke="#fff" stroke-width="0.08" text-anchor="middle" textLength="19.80" lengthAdjust="spacingAndGlyphs">-0.94</text>
<text x="482.50" y="78.77" font-size="9.43" fill="#000" stroke="#000" stroke-width="0.08" text-anchor="middle" textLength="19.80" lengthAdjust="spacingAndGlyphs">-0.05</text>
<text x="513.50" y="78.77" font-size="9.43" fill="#000" stroke="#000" stroke-width="0.08" text-anchor="middle" textLength="17.04" lengthAdjust="spacingAndGlyphs">0.08</text>
<text x="45.75" y="117.05" font-size="9.43" fill="#fff" stroke="#fff" stroke-width="0.08" text-anchor="middle" textLength="19.80" lengthAdjust="spacingAndGlyphs">-0.96</text>
<text x="77.00" y="117.05" font-size="9.43" fill="#fff" stroke="#fff" stroke-width="0.08" text-anchor="middle" textLength="17.04" lengthAdjust="spacingAndGlyphs">0.98</text>
<text x="108.50" y="117.05" font-size="9.43" fill="#fff" stroke="#fff" stroke-width="0.08" text-anchor="middle" textLength="17.04" lengthAdjust="spacingAndGlyphs">1.00</text>
<text x="139.50" y="117.05" font-size="9.43" fill="#000" stroke="#000" stroke-width="0.08" text-anchor="middle" textLength="19.80" lengthAdjust="spacingAndGlyphs">-0.49</text>
<text x="170.50" y="117.05" font-size="9.43" fill="#000" stroke="#000" stroke-width="0.08" text-anchor="middle" textLength="17.04" lengthAdjust="spacingAndGlyphs">0.46</text>
<text x="202.00" y="117.05" font-size="9.43" fill="#000" stroke="#000" stroke-width="0.08" text-anchor="middle" textLength="17.04" lengthAdjust="spacingAndGlyphs">0.67</text>
<text x="233.50" y="117.05" font-size="9.43" fill="#000" stroke="#000" stroke-width="0.08" text-anchor="middle" textLength="19.80" lengthAdjust="spacingAndGlyphs">-0.12</text>
<text x="264.50" y="117.05" font-size="9.43" fill="#fff" stroke="#fff" stroke-width="0.08" text-anchor="middle" textLength="17.04" lengthAdjust="spacingAndGlyphs">0.96</text>
<text x="295.50" y="117.05" font-size="9.43" fill="#fff" stroke="#fff" stroke-width="0.08" text-anchor="middle" textLength="17.04" lengthAdjust="spacingAndGlyphs">0.98</text>
<text x="326.50" y="117.05" font-size="9.43" fill="#fff" stroke="#fff" stroke-width="0.08" text-anchor="middle" textLength="19.80" lengthAdjust="spacingAndGlyphs">-0.93</text>
<text x="357.50" y="117.05" font-size="9.43" fill="#fff" stroke="#fff" stroke-width="0.08" text-anchor="middle" textLength="19.80" lengthAdjust="spacingAndGlyphs">-0.89</text>
<text x="388.50" y="117.05" font-size="9.43" fill="#000" stroke="#000" stroke-width="0.08" text-anchor="middle" textLength="17.04" lengthAdjust="spacingAndGlyphs">0.43</text>
<text x="420.00" y="117.05" font-size="9.43" fill="#fff" stroke="#fff" stroke-width="0.08" text-anchor="middle" textLength="19.80" lengthAdjust="spacingAndGlyphs">-0.72</text>
<text x="451.50" y="117.05" font-size="9.43" fill="#fff" stroke="#fff" stroke-width="0.08" text-anchor="middle" textLength="19.80" lengthAdjust="spacingAndGlyphs">-0.97</text>
<text x="482.50" y="117.05" font-size="9.43" fill="#000" stroke="#000" stroke-width="0.08" text-anchor="middle" textLength="19.80" lengthAdjust="spacingAndGlyphs">-0.17</text>
<text x="513.50" y="117.05" font-size="9.43" fill="#000" stroke="#000" stroke-width="0.08" text-anchor="middle" textLength="17.04" lengthAdjust="spacingAndGlyphs">0.24</text>
<text x="45.75" y="155.33" font-size="9.43" fill="#000" stroke="#000" stroke-width="0.08" text-anchor="middle" textLength="17.04" lengthAdjust="spacingAndGlyphs">0.36</text>
<text x="77.00" y="155.33" font-size="9.43" fill="#000" stroke="#000" stroke-width="0.08" text-anchor="middle" textLength="19.80" lengthAdjust="spacingAndGlyphs">-0.38</text>
<text x="108.50" y="155.33" font-size="9.43" fill="#000" stroke="#000" stroke-width="0.08" text-anchor="middle" textLength="19.80" lengthAdjust="spacingAndGlyphs">-0.49</text>
<text x="139.50" y="155.33" font-size="9.43" fill="#fff" stroke="#fff" stroke-width="0.08" text-anchor="middle" textLength="17.04" lengthAdjust="spacingAndGlyphs">1.00</text>
<text x="170.50" y="155.33" font-size="9.43" fill="#000" stroke="#000" stroke-width="0.08" text-anchor="middle" textLength="17.04" lengthAdjust="spacingAndGlyphs">0.55</text>
<text x="202.00" y="155.33" font-size="9.43" fill="#fff" stroke="#fff" stroke-width="0.08" text-anchor="middle" textLength="19.80" lengthAdjust="spacingAndGlyphs">-0.97</text>
<text x="233.50" y="155.33" font-size="9.43" fill="#fff" stroke="#fff" stroke-width="0.08" text-anchor="middle" textLength="17.04" lengthAdjust="spacingAndGlyphs">0.92</text>
<text x="264.50" y="155.33" font-size="9.43" fill="#000" stroke="#000" stroke-width="0.08" text-anchor="middle" textLength="19.80" lengthAdjust="spacingAndGlyphs">-0.56</text>
<text x="295.50" y="155.33" font-size="9.43" fill="#000" stroke="#000" stroke-width="0.08" text-anchor="middle" textLength="19.80" lengthAdjust="spacingAndGlyphs">-0.52</text>
<text x="326.50" y="155.33" font-size="9.43" fill="#fff" stroke="#fff" stroke-width="0.08" text-anchor="middle" textLength="17.04" lengthAdjust="spacingAndGlyphs">0.77</text>
<text x="357.50" y="155.33" font-size="9.43" fill="#fff" stroke="#fff" stroke-width="0.08" text-anchor="middle" textLength="17.04" lengthAdjust="spacingAndGlyphs">0.83</text>
<text x="388.50" y="155.33" font-size="9.43" fill="#fff" stroke="#fff" stroke-width="0.08" text-anchor="middle" textLength="19.80" lengthAdjust="spacingAndGlyphs">-0.92</text>
<text x="420.00" y="155.33" font-size="9.43" fill="#000" stroke="#000" stroke-width="0.08" text-anchor="middle" textLength="19.80" lengthAdjust="spacingAndGlyphs">-0.23</text>
<text x="451.50" y="155.33" font-size="9.43" fill="#000" stroke="#000" stroke-width="0.08" text-anchor="middle" textLength="17.04" lengthAdjust="spacingAndGlyphs">0.67</text>
<text x="482.50" y="155.33" font-size="9.43" fill="#fff" stroke="#fff" stroke-width="0.08" text-anchor="middle" textLength="17.04" lengthAdjust="spacingAndGlyphs">0.94</text>
<text x="513.50" y="155.33" font-size="9.43" fill="#fff" stroke="#fff" stroke-width="0.08" text-anchor="middle" textLength="19.80" lengthAdjust="spacingAndGlyphs">-0.89</text>
<text x="45.75" y="193.61" font-size="9.43" fill="#000" stroke="#000" stroke-width="0.08" text-anchor="middle" textLength="19.80" lengthAdjust="spacingAndGlyphs">-0.54</text>
<text x="77.00" y="193.61" font-size="9.43" fill="#000" stroke="#000" stroke-width="0.08" text-anchor="middle" textLength="17.04" lengthAdjust="spacingAndGlyphs">0.56</text>
<text x="108.50" y="193.61" font-size="9.43" fill="#000" stroke="#000" stroke-width="0.08" text-anchor="middle" textLength="17.04" lengthAdjust="spacingAndGlyphs">0.46</text>
<text x="139.50" y="193.61" font-size="9.43" fill="#000" stroke="#000" stroke-width="0.08" text-anchor="middle" textLength="17.04" lengthAdjust="spacingAndGlyphs">0.55</text>
<text x="170.50" y="193.61" font-size="9.43" fill="#fff" stroke="#fff" stroke-width="0.08" text-anchor="middle" textLength="17.04" lengthAdjust="spacingAndGlyphs">1.00</text>
<text x="202.00" y="193.61" font-size="9.43" fill="#000" stroke="#000" stroke-width="0.08" text-anchor="middle" textLength="19.80" lengthAdjust="spacingAndGlyphs">-0.35</text>
<text x="233.50" y="193.61" font-size="9.43" fill="#fff" stroke="#fff" stroke-width="0.08" text-anchor="middle" textLength="17.04" lengthAdjust="spacingAndGlyphs">0.82</text>
<text x="264.50" y="193.61" font-size="9.43" fill="#000" stroke="#000" stroke-width="0.08" text-anchor="middle" textLength="17.04" lengthAdjust="spacingAndGlyphs">0.34</text>
<text x="295.50" y="193.61" font-size="9.43" fill="#000" stroke="#000" stroke-width="0.08" text-anchor="middle" textLength="17.04" lengthAdjust="spacingAndGlyphs">0.41</text>
<text x="326.50" y="193.61" font-size="9.43" fill="#000" stroke="#000" stroke-width="0.08" text-anchor="middle" textLength="19.80" lengthAdjust="spacingAndGlyphs">-0.10</text>
<text x="357.50" y="193.61" font-size="9.43" fill="#000" stroke="#000" stroke-width="0.08" text-anchor="middle" textLength="19.80" lengthAdjust="spacingAndGlyphs">-0.01</text>
<text x="388.50" y="193.61" font-size="9.43" fill="#000" stroke="#000" stroke-width="0.08" text-anchor="middle" textLength="19.80" lengthAdjust="spacingAndGlyphs">-0.51</text>
<text x="420.00" y="193.61" font-size="9.43" fill="#fff" stroke="#fff" stroke-width="0.08" text-anchor="middle" textLength="19.80" lengthAdjust="spacingAndGlyphs">-0.94</text>
<text x="451.50" y="193.61" font-size="9.43" fill="#000" stroke="#000" stroke-width="0.08" text-anchor="middle" textLength="19.80" lengthAdjust="spacingAndGlyphs">-0.26</text>
<text x="482.50" y="193.61" font-size="9.43" fill="#fff" stroke="#fff" stroke-width="0.08" text-anchor="middle" textLength="17.04" lengthAdjust="spacingAndGlyphs">0.80</text>
<text x="513.50" y="193.61" font-size="9.43" fill="#000" stroke="#000" stroke-width="0.08" text-anchor="middle" textLength="19.80" lengthAdjust="spacingAndGlyphs">-0.69</text>
<text x="45.75" y="231.89" font-size="9.43" fill="#000" stroke="#000" stroke-width="0.08" text-anchor="middle" textLength="19.80" lengthAdjust="spacingAndGlyphs">-0.55</text>
<text x="77.00" y="231.89" font-size="9.43" fill="#000" stroke="#000" stroke-width="0.08" text-anchor="middle" textLength="17.04" lengthAdjust="spacingAndGlyphs">0.58</text>
<text x="108.50" y="231.89" font-size="9.43" fill="#000" stroke="#000" stroke-width="0.08" text-anchor="middle" textLength="17.04" lengthAdjust="spacingAndGlyphs">0.67</text>
<text x="139.50" y="231.89" font-size="9.43" fill="#fff" stroke="#fff" stroke-width="0.08" text-anchor="middle" textLength="19.80" lengthAdjust="spacingAndGlyphs">-0.97</text>
<text x="170.50" y="231.89" font-size="9.43" fill="#000" stroke="#000" stroke-width="0.08" text-anchor="middle" textLength="19.80" lengthAdjust="spacingAndGlyphs">-0.35</text>
<text x="202.00" y="231.89" font-size="9.43" fill="#fff" stroke="#fff" stroke-width="0.08" text-anchor="middle" textLength="17.04" lengthAdjust="spacingAndGlyphs">1.00</text>
<text x="233.50" y="231.89" font-size="9.43" fill="#fff" stroke="#fff" stroke-width="0.08" text-anchor="middle" textLength="19.80" lengthAdjust="spacingAndGlyphs">-0.82</text>
<text x="264.50" y="231.89" font-size="9.43" fill="#fff" stroke="#fff" stroke-width="0.08" text-anchor="middle" textLength="17.04" lengthAdjust="spacingAndGlyphs">0.72</text>
<text x="295.50" y="231.89" font-size="9.43" fill="#000" stroke="#000" stroke-width="0.08" text-anchor="middle" textLength="17.04" lengthAdjust="spacingAndGlyphs">0.70</text>
<text x="326.50" y="231.89" font-size="9.43" fill="#fff" stroke="#fff" stroke-width="0.08" text-anchor="middle" textLength="19.80" lengthAdjust="spacingAndGlyphs">-0.90</text>
<text x="357.50" y="231.89" font-size="9.43" fill="#fff" stroke="#fff" stroke-width="0.08" text-anchor="middle" textLength="19.80" lengthAdjust="spacingAndGlyphs">-0.93</text>
<text x="388.50" y="231.89" font-size="9.43" fill="#fff" stroke="#fff" stroke-width="0.08" text-anchor="middle" textLength="17.04" lengthAdjust="spacingAndGlyphs">0.91</text>
<text x="420.00" y="231.89" font-size="9.43" fill="#000" stroke="#000" stroke-width="0.08" text-anchor="middle" textLength="17.04" lengthAdjust="spacingAndGlyphs">0.02</text>
<text x="451.50" y="231.89" font-size="9.43" fill="#fff" stroke="#fff" stroke-width="0.08" text-anchor="middle" textLength="19.80" lengthAdjust="spacingAndGlyphs">-0.81</text>
<text x="482.50" y="231.89" font-size="9.43" fill="#fff" stroke="#fff" stroke-width="0.08" text-anchor="middle" textLength="19.80" lengthAdjust="spacingAndGlyphs">-0.84</text>
<text x="513.50" y="231.89" font-size="9.43" fill="#fff" stroke="#fff" stroke-width="0.08" text-anchor="middle" textLength="17.04" lengthAdjust="spacingAndGlyphs">0.80</text>
<text x="45.75" y="270.17" font-size="9.43" fill="#000" stroke="#000" stroke-width="0.08" text-anchor="middle" textLength="19.80" lengthAdjust="spacingAndGlyphs">-0.02</text>
<text x="77.00" y="270.17" font-size="9.43" fill="#000" stroke="#000" stroke-width="0.08" text-anchor="middle" textLength="19.80" lengthAdjust="spacingAndGlyphs">-0.02</text>
<text x="108.50" y="270.17" font-size="9.43" fill="#000" stroke="#000" stroke-width="0.08" text-anchor="middle" textLength="19.80" lengthAdjust="spacingAndGlyphs">-0.12</text>
<text x="139.50" y="270.17" font-size="9.43" fill="#fff" stroke="#fff" stroke-width="0.08" text-anchor="middle" textLength="17.04" lengthAdjust="spacingAndGlyphs">0.92</text>
<text x="170.50" y="270.17" font-size="9.43" fill="#fff" stroke="#fff" stroke-width="0.08" text-anchor="middle" textLength="17.04" lengthAdjust="spacingAndGlyphs">0.82</text>
<text x="202.00" y="270.17" font-size="9.43" fill="#fff" stroke="#fff" stroke-width="0.08" text-anchor="middle" textLength="19.80" lengthAdjust="spacingAndGlyphs">-0.82</text>
<text x="233.50" y="270.17" font-size="9.43" fill="#fff" stroke="#fff" stroke-width="0.08" text-anchor="middle" textLength="17.04" lengthAdjust="spacingAndGlyphs">1.00</text>
<text x="264.50" y="270.17" font-size="9.43" fill="#000" stroke="#000" stroke-width="0.08" text-anchor="middle" textLength="19.80" lengthAdjust="spacingAndGlyphs">-0.21</text>
<text x="295.50" y="270.17" font-size="9.43" fill="#000" stroke="#000" stroke-width="0.08" text-anchor="middle" textLength="19.80" lengthAdjust="spacingAndGlyphs">-0.16</text>
<text x="326.50" y="270.17" font-size="9.43" fill="#000" stroke="#000" stroke-width="0.08" text-anchor="middle" textLength="17.04" lengthAdjust="spacingAndGlyphs">0.48</text>
<text x="357.50" y="270.17" font-size="9.43" fill="#000" stroke="#000" stroke-width="0.08" text-anchor="middle" textLength="17.04" lengthAdjust="spacingAndGlyphs">0.55</text>
<text x="388.50" y="270.17" font-size="9.43" fill="#fff" stroke="#fff" stroke-width="0.08" text-anchor="middle" textLength="19.80" lengthAdjust="spacingAndGlyphs">-0.89</text>
<text x="420.00" y="270.17" font-size="9.43" fill="#000" stroke="#000" stroke-width="0.08" text-anchor="middle" textLength="19.80" lengthAdjust="spacingAndGlyphs">-0.58</text>
<text x="451.50" y="270.17" font-size="9.43" fill="#000" stroke="#000" stroke-width="0.08" text-anchor="middle" textLength="17.04" lengthAdjust="spacingAndGlyphs">0.34</text>
<text x="482.50" y="270.17" font-size="9.43" fill="#fff" stroke="#fff" stroke-width="0.08" text-anchor="middle" textLength="17.04" lengthAdjust="spacingAndGlyphs">0.99</text>
<text x="513.50" y="270.17" font-size="9.43" fill="#fff" stroke="#fff" stroke-width="0.08" text-anchor="middle" textLength="19.80" lengthAdjust="spacingAndGlyphs">-0.88</text>
<text x="45.75" y="308.45" font-size="9.43" fill="#fff" stroke="#fff" stroke-width="0.08" text-anchor="middle" textLength="19.80" lengthAdjust="spacingAndGlyphs">-0.97</text>
<text x="77.00" y="308.45" font-size="9.43" fill="#fff" stroke="#fff" stroke-width="0.08" text-anchor="middle" textLength="17.04" lengthAdjust="spacingAndGlyphs">0.90</text>
<text x="108.50" y="308.45" font-size="9.43" fill="#fff" stroke="#fff" stroke-width="0.08" text-anchor="middle" textLength="17.04" lengthAdjust="spacingAndGlyphs">0.96</text>
<text x="139.50" y="308.45" font-size="9.43" fill="#000" stroke="#000" stroke-width="0.08" text-anchor="middle" textLength="19.80" lengthAdjust="spacingAndGlyphs">-0.56</text>
<text x="170.50" y="308.45" font-size="9.43" fill="#000" stroke="#000" stroke-width="0.08" text-anchor="middle" textLength="17.04" lengthAdjust="spacingAndGlyphs">0.34</text>
<text x="202.00" y="308.45" font-size="9.43" fill="#fff" stroke="#fff" stroke-width="0.08" text-anchor="middle" textLength="17.04" lengthAdjust="spacingAndGlyphs">0.72</text>
<text x="233.50" y="308.45" font-size="9.43" fill="#000" stroke="#000" stroke-width="0.08" text-anchor="middle" textLength="19.80" lengthAdjust="spacingAndGlyphs">-0.21</text>
<text x="264.50" y="308.45" font-size="9.43" fill="#fff" stroke="#fff" stroke-width="0.08" text-anchor="middle" textLength="17.04" lengthAdjust="spacingAndGlyphs">1.00</text>
<text x="295.50" y="308.45" font-size="9.43" fill="#fff" stroke="#fff" stroke-width="0.08" text-anchor="middle" textLength="17.04" lengthAdjust="spacingAndGlyphs">0.98</text>
<text x="326.50" y="308.45" font-size="9.43" fill="#fff" stroke="#fff" stroke-width="0.08" text-anchor="middle" textLength="19.80" lengthAdjust="spacingAndGlyphs">-0.92</text>
<text x="357.50" y="308.45" font-size="9.43" fill="#fff" stroke="#fff" stroke-width="0.08" text-anchor="middle" textLength="19.80" lengthAdjust="spacingAndGlyphs">-0.90</text>
<text x="388.50" y="308.45" font-size="9.43" fill="#000" stroke="#000" stroke-width="0.08" text-anchor="middle" textLength="17.04" lengthAdjust="spacingAndGlyphs">0.41</text>
<text x="420.00" y="308.45" font-size="9.43" fill="#000" stroke="#000" stroke-width="0.08" text-anchor="middle" textLength="19.80" lengthAdjust="spacingAndGlyphs">-0.62</text>
<text x="451.50" y="308.45" font-size="9.43" fill="#fff" stroke="#fff" stroke-width="0.08" text-anchor="middle" textLength="19.80" lengthAdjust="spacingAndGlyphs">-0.94</text>
<text x="482.50" y="308.45" font-size="9.43" fill="#000" stroke="#000" stroke-width="0.08" text-anchor="middle" textLength="19.80" lengthAdjust="spacingAndGlyphs">-0.27</text>
<text x="513.50" y="308.45" font-size="9.43" fill="#000" stroke="#000" stroke-width="0.08" text-anchor="middle" textLength="17.04" lengthAdjust="spacingAndGlyphs">0.42</text>
<text x="45.75" y="346.73" font-size="9.43" fill="#fff" stroke="#fff" stroke-width="0.08" text-anchor="middle" textLength="19.80" lengthAdjust="spacingAndGlyphs">-0.98</text>
<text x="77.00" y="346.73" font-size="9.43" fill="#fff" stroke="#fff" stroke-width="0.08" text-anchor="middle" textLength="17.04" lengthAdjust="spacingAndGlyphs">0.96</text>
<text x="108.50" y="346.73" font-size="9.43" fill="#fff" stroke="#fff" stroke-width="0.08" text-anchor="middle" textLength="17.04" lengthAdjust="spacingAndGlyphs">0.98</text>
<text x="139.50" y="346.73" font-size="9.43" fill="#000" stroke="#000" stroke-width="0.08" text-anchor="middle" textLength="19.80" lengthAdjust="spacingAndGlyphs">-0.52</text>
<text x="170.50" y="346.73" font-size="9.43" fill="#000" stroke="#000" stroke-width="0.08" text-anchor="middle" textLength="17.04" lengthAdjust="spacingAndGlyphs">0.41</text>
<text x="202.00" y="346.73" font-size="9.43" fill="#000" stroke="#000" stroke-width="0.08" text-anchor="middle" textLength="17.04" lengthAdjust="spacingAndGlyphs">0.70</text>
<text x="233.50" y="346.73" font-size="9.43" fill="#000" stroke="#000" stroke-width="0.08" text-anchor="middle" textLength="19.80" lengthAdjust="spacingAndGlyphs">-0.16</text>
<text x="264.50" y="346.73" font-size="9.43" fill="#fff" stroke="#fff" stroke-width="0.08" text-anchor="middle" textLength="17.04" lengthAdjust="spacingAndGlyphs">0.98</text>
<text x="295.50" y="346.73" font-size="9.43" fill="#fff" stroke="#fff" stroke-width="0.08" text-anchor="middle" textLength="17.04" lengthAdjust="spacingAndGlyphs">1.00</text>
<text x="326.50" y="346.73" font-size="9.43" fill="#fff" stroke="#fff" stroke-width="0.08" text-anchor="middle" textLength="19.80" lengthAdjust="spacingAndGlyphs">-0.93</text>
<text x="357.50" y="346.73" font-size="9.43" fill="#fff" stroke="#fff" stroke-width="0.08" text-anchor="middle" textLength="19.80" lengthAdjust="spacingAndGlyphs">-0.90</text>
<text x="388.50" y="346.73" font-size="9.43" fill="#000" stroke="#000" stroke-width="0.08" text-anchor="middle" textLength="17.04" lengthAdjust="spacingAndGlyphs">0.43</text>
<text x="420.00" y="346.73" font-size="9.43" fill="#000" stroke="#000" stroke-width="0.08" text-anchor="middle" textLength="19.80" lengthAdjust="spacingAndGlyphs">-0.69</text>
<text x="451.50" y="346.73" font-size="9.43" fill="#fff" stroke="#fff" stroke-width="0.08" text-anchor="middle" textLength="19.80" lengthAdjust="spacingAndGlyphs">-0.97</text>
<text x="482.50" y="346.73" font-size="9.43" fill="#000" stroke="#000" stroke-width="0.08" text-anchor="middle" textLength="19.80" lengthAdjust="spacingAndGlyphs">-0.21</text>
<text x="513.50" y="346.73" font-size="9.43" fill="#000" stroke="#000" stroke-width="0.08" text-anchor="middle" textLength="17.04" lengthAdjust="spacingAndGlyphs">0.31</text>
<text x="45.75" y="385.02" font-size="9.43" fill="#fff" stroke="#fff" stroke-width="0.08" text-anchor="middle" textLength="17.04" lengthAdjust="spacingAndGlyphs">0.84</text>
<text x="77.00" y="385.02" font-size="9.43" fill="#fff" stroke="#fff" stroke-width="0.08" text-anchor="middle" textLength="19.80" lengthAdjust="spacingAndGlyphs">-0.88</text>
<text x="108.50" y="385.02" font-size="9.43" fill="#fff" stroke="#fff" stroke-width="0.08" text-anchor="middle" textLength="19.80" lengthAdjust="spacingAndGlyphs">-0.93</text>
<text x="139.50" y="385.02" font-size="9.43" fill="#fff" stroke="#fff" stroke-width="0.08" text-anchor="middle" textLength="17.04" lengthAdjust="spacingAndGlyphs">0.77</text>
<text x="170.50" y="385.02" font-size="9.43" fill="#000" stroke="#000" stroke-width="0.08" text-anchor="middle" textLength="19.80" lengthAdjust="spacingAndGlyphs">-0.10</text>
<text x="202.00" y="385.02" font-size="9.43" fill="#fff" stroke="#fff" stroke-width="0.08" text-anchor="middle" textLength="19.80" lengthAdjust="spacingAndGlyphs">-0.90</text>
<text x="233.50" y="385.02" font-size="9.43" fill="#000" stroke="#000" stroke-width="0.08" text-anchor="middle" textLength="17.04" lengthAdjust="spacingAndGlyphs">0.48</text>
<text x="264.50" y="385.02" font-size="9.43" fill="#fff" stroke="#fff" stroke-width="0.08" text-anchor="middle" textLength="19.80" lengthAdjust="spacingAndGlyphs">-0.92</text>
<text x="295.50" y="385.02" font-size="9.43" fill="#fff" stroke="#fff" stroke-width="0.08" text-anchor="middle" textLength="19.80" lengthAdjust="spacingAndGlyphs">-0.93</text>
<text x="326.50" y="385.02" font-size="9.43" fill="#fff" stroke="#fff" stroke-width="0.08" text-anchor="middle" textLength="17.04" lengthAdjust="spacingAndGlyphs">1.00</text>
<text x="357.50" y="385.02" font-size="9.43" fill="#fff" stroke="#fff" stroke-width="0.08" text-anchor="middle" textLength="17.04" lengthAdjust="spacingAndGlyphs">1.00</text>
<text x="388.50" y="385.02" font-size="9.43" fill="#fff" stroke="#fff" stroke-width="0.08" text-anchor="middle" textLength="19.80" lengthAdjust="spacingAndGlyphs">-0.72</text>
<text x="420.00" y="385.02" font-size="9.43" fill="#000" stroke="#000" stroke-width="0.08" text-anchor="middle" textLength="17.04" lengthAdjust="spacingAndGlyphs">0.43</text>
<text x="451.50" y="385.02" font-size="9.43" fill="#fff" stroke="#fff" stroke-width="0.08" text-anchor="middle" textLength="17.04" lengthAdjust="spacingAndGlyphs">0.99</text>
<text x="482.50" y="385.02" font-size="9.43" fill="#000" stroke="#000" stroke-width="0.08" text-anchor="middle" textLength="17.04" lengthAdjust="spacingAndGlyphs">0.51</text>
<text x="513.50" y="385.02" font-size="9.43" fill="#000" stroke="#000" stroke-width="0.08" text-anchor="middle" textLength="19.80" lengthAdjust="spacingAndGlyphs">-0.52</text>
<text x="45.75" y="423.30" font-size="9.43" fill="#fff" stroke="#fff" stroke-width="0.08" text-anchor="middle" textLength="17.04" lengthAdjust="spacingAndGlyphs">0.80</text>
<text x="77.00" y="423.30" font-size="9.43" fill="#fff" stroke="#fff" stroke-width="0.08" text-anchor="middle" textLength="19.80" lengthAdjust="spacingAndGlyphs">-0.83</text>
<text x="108.50" y="423.30" font-size="9.43" fill="#fff" stroke="#fff" stroke-width="0.08" text-anchor="middle" textLength="19.80" lengthAdjust="spacingAndGlyphs">-0.89</text>
<text x="139.50" y="423.30" font-size="9.43" fill="#fff" stroke="#fff" stroke-width="0.08" text-anchor="middle" textLength="17.04" lengthAdjust="spacingAndGlyphs">0.83</text>
<text x="170.50" y="423.30" font-size="9.43" fill="#000" stroke="#000" stroke-width="0.08" text-anchor="middle" textLength="19.80" lengthAdjust="spacingAndGlyphs">-0.01</text>
<text x="202.00" y="423.30" font-size="9.43" fill="#fff" stroke="#fff" stroke-width="0.08" text-anchor="middle" textLength="19.80" lengthAdjust="spacingAndGlyphs">-0.93</text>
<text x="233.50" y="423.30" font-size="9.43" fill="#000" stroke="#000" stroke-width="0.08" text-anchor="middle" textLength="17.04" lengthAdjust="spacingAndGlyphs">0.55</text>
<text x="264.50" y="423.30" font-size="9.43" fill="#fff" stroke="#fff" stroke-width="0.08" text-anchor="middle" textLength="19.80" lengthAdjust="spacingAndGlyphs">-0.90</text>
<text x="295.50" y="423.30" font-size="9.43" fill="#fff" stroke="#fff" stroke-width="0.08" text-anchor="middle" textLength="19.80" lengthAdjust="spacingAndGlyphs">-0.90</text>
<text x="326.50" y="423.30" font-size="9.43" fill="#fff" stroke="#fff" stroke-width="0.08" text-anchor="middle" textLength="17.04" lengthAdjust="spacingAndGlyphs">1.00</text>
<text x="357.50" y="423.30" font-size="9.43" fill="#fff" stroke="#fff" stroke-width="0.08" text-anchor="middle" textLength="17.04" lengthAdjust="spacingAndGlyphs">1.00</text>
<text x="388.50" y="423.30" font-size="9.43" fill="#fff" stroke="#fff" stroke-width="0.08" text-anchor="middle" textLength="19.80" lengthAdjust="spacingAndGlyphs">-0.77</text>
<text x="420.00" y="423.30" font-size="9.43" fill="#000" stroke="#000" stroke-width="0.08" text-anchor="middle" textLength="17.04" lengthAdjust="spacingAndGlyphs">0.35</text>
<text x="451.50" y="423.30" font-size="9.43" fill="#fff" stroke="#fff" stroke-width="0.08" text-anchor="middle" textLength="17.04" lengthAdjust="spacingAndGlyphs">0.97</text>
<text x="482.50" y="423.30" font-size="9.43" fill="#000" stroke="#000" stroke-width="0.08" text-anchor="middle" textLength="17.04" lengthAdjust="spacingAndGlyphs">0.59</text>
<text x="513.50" y="423.30" font-size="9.43" fill="#000" stroke="#000" stroke-width="0.08" text-anchor="middle" textLength="19.80" lengthAdjust="spacingAndGlyphs">-0.59</text>
<text x="45.75" y="461.58" font-size="9.43" fill="#000" stroke="#000" stroke-width="0.08" text-anchor="middle" textLength="19.80" lengthAdjust="spacingAndGlyphs">-0.24</text>
<text x="77.00" y="461.58" font-size="9.43" fill="#000" stroke="#000" stroke-width="0.08" text-anchor="middle" textLength="17.04" lengthAdjust="spacingAndGlyphs">0.38</text>
<text x="108.50" y="461.58" font-size="9.43" fill="#000" stroke="#000" stroke-width="0.08" text-anchor="middle" textLength="17.04" lengthAdjust="spacingAndGlyphs">0.43</text>
<text x="139.50" y="461.58" font-size="9.43" fill="#fff" stroke="#fff" stroke-width="0.08" text-anchor="middle" textLength="19.80" lengthAdjust="spacingAndGlyphs">-0.92</text>
<text x="170.50" y="461.58" font-size="9.43" fill="#000" stroke="#000" stroke-width="0.08" text-anchor="middle" textLength="19.80" lengthAdjust="spacingAndGlyphs">-0.51</text>
<text x="202.00" y="461.58" font-size="9.43" fill="#fff" stroke="#fff" stroke-width="0.08" text-anchor="middle" textLength="17.04" lengthAdjust="spacingAndGlyphs">0.91</text>
<text x="233.50" y="461.58" font-size="9.43" fill="#fff" stroke="#fff" stroke-width="0.08" text-anchor="middle" textLength="19.80" lengthAdjust="spacingAndGlyphs">-0.89</text>
<text x="264.50" y="461.58" font-size="9.43" fill="#000" stroke="#000" stroke-width="0.08" text-anchor="middle" textLength="17.04" lengthAdjust="spacingAndGlyphs">0.41</text>
<text x="295.50" y="461.58" font-size="9.43" fill="#000" stroke="#000" stroke-width="0.08" text-anchor="middle" textLength="17.04" lengthAdjust="spacingAndGlyphs">0.43</text>
<text x="326.50" y="461.58" font-size="9.43" fill="#fff" stroke="#fff" stroke-width="0.08" text-anchor="middle" textLength="19.80" lengthAdjust="spacingAndGlyphs">-0.72</text>
<text x="357.50" y="461.58" font-size="9.43" fill="#fff" stroke="#fff" stroke-width="0.08" text-anchor="middle" textLength="19.80" lengthAdjust="spacingAndGlyphs">-0.77</text>
<text x="388.50" y="461.58" font-size="9.43" fill="#fff" stroke="#fff" stroke-width="0.08" text-anchor="middle" textLength="17.04" lengthAdjust="spacingAndGlyphs">1.00</text>
<text x="420.00" y="461.58" font-size="9.43" fill="#000" stroke="#000" stroke-width="0.08" text-anchor="middle" textLength="17.04" lengthAdjust="spacingAndGlyphs">0.23</text>
<text x="451.50" y="461.58" font-size="9.43" fill="#000" stroke="#000" stroke-width="0.08" text-anchor="middle" textLength="19.80" lengthAdjust="spacingAndGlyphs">-0.62</text>
<text x="482.50" y="461.58" font-size="9.43" fill="#fff" stroke="#fff" stroke-width="0.08" text-anchor="middle" textLength="19.80" lengthAdjust="spacingAndGlyphs">-0.87</text>
<text x="513.50" y="461.58" font-size="9.43" fill="#000" stroke="#000" stroke-width="0.08" text-anchor="middle" textLength="17.04" lengthAdjust="spacingAndGlyphs">0.67</text>
<text x="45.75" y="499.86" font-size="9.43" fill="#fff" stroke="#fff" stroke-width="0.08" text-anchor="middle" textLength="17.04" lengthAdjust="spacingAndGlyphs">0.78</text>
<text x="77.00" y="499.86" font-size="9.43" fill="#fff" stroke="#fff" stroke-width="0.08" text-anchor="middle" textLength="19.80" lengthAdjust="spacingAndGlyphs">-0.80</text>
<text x="108.50" y="499.86" font-size="9.43" fill="#fff" stroke="#fff" stroke-width="0.08" text-anchor="middle" textLength="19.80" lengthAdjust="spacingAndGlyphs">-0.72</text>
<text x="139.50" y="499.86" font-size="9.43" fill="#000" stroke="#000" stroke-width="0.08" text-anchor="middle" textLength="19.80" lengthAdjust="spacingAndGlyphs">-0.23</text>
<text x="170.50" y="499.86" font-size="9.43" fill="#fff" stroke="#fff" stroke-width="0.08" text-anchor="middle" textLength="19.80" lengthAdjust="spacingAndGlyphs">-0.94</text>
<text x="202.00" y="499.86" font-size="9.43" fill="#000" stroke="#000" stroke-width="0.08" text-anchor="middle" textLength="17.04" lengthAdjust="spacingAndGlyphs">0.02</text>
<text x="233.50" y="499.86" font-size="9.43" fill="#000" stroke="#000" stroke-width="0.08" text-anchor="middle" textLength="19.80" lengthAdjust="spacingAndGlyphs">-0.58</text>
<text x="264.50" y="499.86" font-size="9.43" fill="#000" stroke="#000" stroke-width="0.08" text-anchor="middle" textLength="19.80" lengthAdjust="spacingAndGlyphs">-0.62</text>
<text x="295.50" y="499.86" font-size="9.43" fill="#000" stroke="#000" stroke-width="0.08" text-anchor="middle" textLength="19.80" lengthAdjust="spacingAndGlyphs">-0.69</text>
<text x="326.50" y="499.86" font-size="9.43" fill="#000" stroke="#000" stroke-width="0.08" text-anchor="middle" textLength="17.04" lengthAdjust="spacingAndGlyphs">0.43</text>
<text x="357.50" y="499.86" font-size="9.43" fill="#000" stroke="#000" stroke-width="0.08" text-anchor="middle" textLength="17.04" lengthAdjust="spacingAndGlyphs">0.35</text>
<text x="388.50" y="499.86" font-size="9.43" fill="#000" stroke="#000" stroke-width="0.08" text-anchor="middle" textLength="17.04" lengthAdjust="spacingAndGlyphs">0.23</text>
<text x="420.00" y="499.86" font-size="9.43" fill="#fff" stroke="#fff" stroke-width="0.08" text-anchor="middle" textLength="17.04" lengthAdjust="spacingAndGlyphs">1.00</text>
<text x="451.50" y="499.86" font-size="9.43" fill="#000" stroke="#000" stroke-width="0.08" text-anchor="middle" textLength="17.04" lengthAdjust="spacingAndGlyphs">0.56</text>
<text x="482.50" y="499.86" font-size="9.43" fill="#000" stroke="#000" stroke-width="0.08" text-anchor="middle" textLength="19.80" lengthAdjust="spacingAndGlyphs">-0.55</text>
<text x="513.50" y="499.86" font-size="9.43" fill="#000" stroke="#000" stroke-width="0.08" text-anchor="middle" textLength="17.04" lengthAdjust="spacingAndGlyphs">0.44</text>
<text x="45.75" y="538.14" font-size="9.43" fill="#fff" stroke="#fff" stroke-width="0.08" text-anchor="middle" textLength="17.04" lengthAdjust="spacingAndGlyphs">0.90</text>
<text x="77.00" y="538.14" font-size="9.43" fill="#fff" stroke="#fff" stroke-width="0.08" text-anchor="middle" textLength="19.80" lengthAdjust="spacingAndGlyphs">-0.94</text>
<text x="108.50" y="538.14" font-size="9.43" fill="#fff" stroke="#fff" stroke-width="0.08" text-anchor="middle" textLength="19.80" lengthAdjust="spacingAndGlyphs">-0.97</text>
<text x="139.50" y="538.14" font-size="9.43" fill="#000" stroke="#000" stroke-width="0.08" text-anchor="middle" textLength="17.04" lengthAdjust="spacingAndGlyphs">0.67</text>
<text x="170.50" y="538.14" font-size="9.43" fill="#000" stroke="#000" stroke-width="0.08" text-anchor="middle" textLength="19.80" lengthAdjust="spacingAndGlyphs">-0.26</text>
<text x="202.00" y="538.14" font-size="9.43" fill="#fff" stroke="#fff" stroke-width="0.08" text-anchor="middle" textLength="19.80" lengthAdjust="spacingAndGlyphs">-0.81</text>
<text x="233.50" y="538.14" font-size="9.43" fill="#000" stroke="#000" stroke-width="0.08" text-anchor="middle" textLength="17.04" lengthAdjust="spacingAndGlyphs">0.34</text>
<text x="264.50" y="538.14" font-size="9.43" fill="#fff" stroke="#fff" stroke-width="0.08" text-anchor="middle" textLength="19.80" lengthAdjust="spacingAndGlyphs">-0.94</text>
<text x="295.50" y="538.14" font-size="9.43" fill="#fff" stroke="#fff" stroke-width="0.08" text-anchor="middle" textLength="19.80" lengthAdjust="spacingAndGlyphs">-0.97</text>
<text x="326.50" y="538.14" font-size="9.43" fill="#fff" stroke="#fff" stroke-width="0.08" text-anchor="middle" textLength="17.04" lengthAdjust="spacingAndGlyphs">0.99</text>
<text x="357.50" y="538.14" font-size="9.43" fill="#fff" stroke="#fff" stroke-width="0.08" text-anchor="middle" textLength="17.04" lengthAdjust="spacingAndGlyphs">0.97</text>
<text x="388.50" y="538.14" font-size="9.43" fill="#000" stroke="#000" stroke-width="0.08" text-anchor="middle" textLength="19.80" lengthAdjust="spacingAndGlyphs">-0.62</text>
<text x="420.00" y="538.14" font-size="9.43" fill="#000" stroke="#000" stroke-width="0.08" text-anchor="middle" textLength="17.04" lengthAdjust="spacingAndGlyphs">0.56</text>
<text x="451.50" y="538.14" font-size="9.43" fill="#fff" stroke="#fff" stroke-width="0.08" text-anchor="middle" textLength="17.04" lengthAdjust="spacingAndGlyphs">1.00</text>
<text x="482.50" y="538.14" font-size="9.43" fill="#000" stroke="#000" stroke-width="0.08" text-anchor="middle" textLength="17.04" lengthAdjust="spacingAndGlyphs">0.37</text>
<text x="513.50" y="538.14" font-size="9.43" fill="#000" stroke="#000" stroke-width="0.08" text-anchor="middle" textLength="19.80" lengthAdjust="spacingAndGlyphs">-0.40</text>
<text x="45.75" y="576.42" font-size="9.43" fill="#000" stroke="#000" stroke-width="0.08" text-anchor="middle" textLength="17.04" lengthAdjust="spacingAndGlyphs">0.05</text>
<text x="77.00" y="576.42" font-size="9.43" fill="#000" stroke="#000" stroke-width="0.08" text-anchor="middle" textLength="19.80" lengthAdjust="spacingAndGlyphs">-0.05</text>
<text x="108.50" y="576.42" font-size="9.43" fill="#000" stroke="#000" stroke-width="0.08" text-anchor="middle" textLength="19.80" lengthAdjust="spacingAndGlyphs">-0.17</text>
<text x="139.50" y="576.42" font-size="9.43" fill="#fff" stroke="#fff" stroke-width="0.08" text-anchor="middle" textLength="17.04" lengthAdjust="spacingAndGlyphs">0.94</text>
<text x="170.50" y="576.42" font-size="9.43" fill="#fff" stroke="#fff" stroke-width="0.08" text-anchor="middle" textLength="17.04" lengthAdjust="spacingAndGlyphs">0.80</text>
<text x="202.00" y="576.42" font-size="9.43" fill="#fff" stroke="#fff" stroke-width="0.08" text-anchor="middle" textLength="19.80" lengthAdjust="spacingAndGlyphs">-0.84</text>
<text x="233.50" y="576.42" font-size="9.43" fill="#fff" stroke="#fff" stroke-width="0.08" text-anchor="middle" textLength="17.04" lengthAdjust="spacingAndGlyphs">0.99</text>
<text x="264.50" y="576.42" font-size="9.43" fill="#000" stroke="#000" stroke-width="0.08" text-anchor="middle" textLength="19.80" lengthAdjust="spacingAndGlyphs">-0.27</text>
<text x="295.50" y="576.42" font-size="9.43" fill="#000" stroke="#000" stroke-width="0.08" text-anchor="middle" textLength="19.80" lengthAdjust="spacingAndGlyphs">-0.21</text>
<text x="326.50" y="576.42" font-size="9.43" fill="#000" stroke="#000" stroke-width="0.08" text-anchor="middle" textLength="17.04" lengthAdjust="spacingAndGlyphs">0.51</text>
<text x="357.50" y="576.42" font-size="9.43" fill="#000" stroke="#000" stroke-width="0.08" text-anchor="middle" textLength="17.04" lengthAdjust="spacingAndGlyphs">0.59</text>
<text x="388.50" y="576.42" font-size="9.43" fill="#fff" stroke="#fff" stroke-width="0.08" text-anchor="middle" textLength="19.80" lengthAdjust="spacingAndGlyphs">-0.87</text>
<text x="420.00" y="576.42" font-size="9.43" fill="#000" stroke="#000" stroke-width="0.08" text-anchor="middle" textLength="19.80" lengthAdjust="spacingAndGlyphs">-0.55</text>
<text x="451.50" y="576.42" font-size="9.43" fill="#000" stroke="#000" stroke-width="0.08" text-anchor="middle" textLength="17.04" lengthAdjust="spacingAndGlyphs">0.37</text>
<text x="482.50" y="576.42" font-size="9.43" fill="#fff" stroke="#fff" stroke-width="0.08" text-anchor="middle" textLength="17.04" lengthAdjust="spacingAndGlyphs">1.00</text>
<text x="513.50" y="576.42" font-size="9.43" fill="#fff" stroke="#fff" stroke-width="0.08" text-anchor="middle" textLength="19.80" lengthAdjust="spacingAndGlyphs">-0.92</text>
<text x="45.75" y="614.70" font-size="9.43" fill="#000" stroke="#000" stroke-width="0.08" text-anchor="middle" textLength="19.80" lengthAdjust="spacingAndGlyphs">-0.20</text>
<text x="77.00" y="614.70" font-size="9.43" fill="#000" stroke="#000" stroke-width="0.08" text-anchor="middle" textLength="17.04" lengthAdjust="spacingAndGlyphs">0.08</text>
<text x="108.50" y="614.70" font-size="9.43" fill="#000" stroke="#000" stroke-width="0.08" text-anchor="middle" textLength="17.04" lengthAdjust="spacingAndGlyphs">0.24</text>
<text x="139.50" y="614.70" font-size="9.43" fill="#fff" stroke="#fff" stroke-width="0.08" text-anchor="middle" textLength="19.80" lengthAdjust="spacingAndGlyphs">-0.89</text>
<text x="170.50" y="614.70" font-size="9.43" fill="#000" stroke="#000" stroke-width="0.08" text-anchor="middle" textLength="19.80" lengthAdjust="spacingAndGlyphs">-0.69</text>
<text x="202.00" y="614.70" font-size="9.43" fill="#fff" stroke="#fff" stroke-width="0.08" text-anchor="middle" textLength="17.04" lengthAdjust="spacingAndGlyphs">0.80</text>
<text x="233.50" y="614.70" font-size="9.43" fill="#fff" stroke="#fff" stroke-width="0.08" text-anchor="middle" textLength="19.80" lengthAdjust="spacingAndGlyphs">-0.88</text>
<text x="264.50" y="614.70" font-size="9.43" fill="#000" stroke="#000" stroke-width="0.08" text-anchor="middle" textLength="17.04" lengthAdjust="spacingAndGlyphs">0.42</text>
<text x="295.50" y="614.70" font-size="9.43" fill="#000" stroke="#000" stroke-width="0.08" text-anchor="middle" textLength="17.04" lengthAdjust="spacingAndGlyphs">0.31</text>
<text x="326.50" y="614.70" font-size="9.43" fill="#000" stroke="#000" stroke-width="0.08" text-anchor="middle" textLength="19.80" lengthAdjust="spacingAndGlyphs">-0.52</text>
<text x="357.50" y="614.70" font-size="9.43" fill="#000" stroke="#000" stroke-width="0.08" text-anchor="middle" textLength="19.80" lengthAdjust="spacingAndGlyphs">-0.59</text>
<text x="388.50" y="614.70" font-size="9.43" fill="#000" stroke="#000" stroke-width="0.08" text-anchor="middle" textLength="17.04" lengthAdjust="spacingAndGlyphs">0.67</text>
<text x="420.00" y="614.70" font-size="9.43" fill="#000" stroke="#000" stroke-width="0.08" text-anchor="middle" textLength="17.04" lengthAdjust="spacingAndGlyphs">0.44</text>
<text x="451.50" y="614.70" font-size="9.43" fill="#000" stroke="#000" stroke-width="0.08" text-anchor="middle" textLength="19.80" lengthAdjust="spacingAndGlyphs">-0.40</text>
<text x="482.50" y="614.70" font-size="9.43" fill="#fff" stroke="#fff" stroke-width="0.08" text-anchor="middle" textLength="19.80" lengthAdjust="spacingAndGlyphs">-0.92</text>
<text x="513.50" y="614.70" font-size="9.43" fill="#fff" stroke="#fff" stroke-width="0.08" text-anchor="middle" textLength="17.04" lengthAdjust="spacingAndGlyphs">1.00</text>
<line x1="30.75" y1="18.50" x2="30.75" y2="631.52" stroke="#000" stroke-width="1.5"/>
<line x1="29.98" y1="631.00" x2="529.00" y2="631.00" stroke="#000" stroke-width="1.5"/>
<line x1="26.00" y1="38.50" x2="30.50" y2="38.50" stroke="#000" stroke-width="1.04"/>
<text x="20.50" y="42.29" font-size="11.02" fill="#000" text-anchor="end" textLength="14.62" lengthAdjust="spacingAndGlyphs">D1</text>
<line x1="26.00" y1="76.50" x2="30.50" y2="76.50" stroke="#000" stroke-width="1.04"/>
<text x="20.50" y="80.29" font-size="11.02" fill="#000" text-anchor="end" textLength="14.62" lengthAdjust="spacingAndGlyphs">D2</text>
<line x1="26.00" y1="115.50" x2="30.50" y2="115.50" stroke="#000" stroke-width="1.04"/>
<text x="20.50" y="119.29" font-size="11.02" fill="#000" text-anchor="end" textLength="14.62" lengthAdjust="spacingAndGlyphs">D3</text>
<line x1="26.00" y1="153.50" x2="30.50" y2="153.50" stroke="#000" stroke-width="1.04"/>
<text x="20.50" y="157.29" font-size="11.02" fill="#000" text-anchor="end" textLength="14.62" lengthAdjust="spacingAndGlyphs">D4</text>
<line x1="26.00" y1="191.50" x2="30.50" y2="191.50" stroke="#000" stroke-width="1.04"/>
<text x="20.50" y="195.29" font-size="11.02" fill="#000" text-anchor="end" textLength="14.62" lengthAdjust="spacingAndGlyphs">D5</text>
<line x1="26.00" y1="229.50" x2="30.50" y2="229.50" stroke="#000" stroke-width="1.04"/>
<text x="20.50" y="233.29" font-size="11.02" fill="#000" text-anchor="end" textLength="14.62" lengthAdjust="spacingAndGlyphs">D6</text>
<line x1="26.00" y1="268.50" x2="30.50" y2="268.50" stroke="#000" stroke-width="1.04"/>
<text x="20.50" y="272.29" font-size="11.02" fill="#000" text-anchor="end" textLength="14.62" lengthAdjust="spacingAndGlyphs">D7</text>
<line x1="26.00" y1="306.50" x2="30.50" y2="306.50" stroke="#000" stroke-width="1.04"/>
<text x="20.50" y="310.29" font-size="11.02" fill="#000" text-anchor="end" textLength="14.62" lengthAdjust="spacingAndGlyphs">D8</text>
<line x1="26.00" y1="344.50" x2="30.50" y2="344.50" stroke="#000" stroke-width="1.04"/>
<text x="20.50" y="348.29" font-size="11.02" fill="#000" text-anchor="end" textLength="14.62" lengthAdjust="spacingAndGlyphs">D9</text>
<line x1="26.00" y1="383.50" x2="30.50" y2="383.50" stroke="#000" stroke-width="1.04"/>
<text x="20.50" y="387.29" font-size="11.02" fill="#000" text-anchor="end" textLength="21.24" lengthAdjust="spacingAndGlyphs">D10</text>
<line x1="26.00" y1="421.50" x2="30.50" y2="421.50" stroke="#000" stroke-width="1.04"/>
<text x="20.50" y="425.29" font-size="11.02" fill="#000" text-anchor="end" textLength="21.24" lengthAdjust="spacingAndGlyphs">D11</text>
<line x1="26.00" y1="459.50" x2="30.50" y2="459.50" stroke="#000" stroke-width="1.04"/>
<text x="20.50" y="463.29" font-size="11.02" fill="#000" text-anchor="end" textLength="21.24" lengthAdjust="spacingAndGlyphs">D12</text>
<line x1="26.00" y1="497.50" x2="30.50" y2="497.50" stroke="#000" stroke-width="1.04"/>
<text x="20.50" y="501.29" font-size="11.02" fill="#000" text-anchor="end" textLength="21.24" lengthAdjust="spacingAndGlyphs">D13</text>
<line x1="26.00" y1="536.50" x2="30.50" y2="536.50" stroke="#000" stroke-width="1.04"/>
<text x="20.50" y="540.29" font-size="11.02" fill="#000" text-anchor="end" textLength="21.24" lengthAdjust="spacingAndGlyphs">D14</text>
<line x1="26.00" y1="574.50" x2="30.50" y2="574.50" stroke="#000" stroke-width="1.04"/>
<text x="20.50" y="578.29" font-size="11.02" fill="#000" text-anchor="end" textLength="21.24" lengthAdjust="spacingAndGlyphs">D15</text>
<line x1="26.00" y1="612.50" x2="30.50" y2="612.50" stroke="#000" stroke-width="1.04"/>
<text x="20.50" y="616.29" font-size="11.02" fill="#000" text-anchor="end" textLength="21.24" lengthAdjust="spacingAndGlyphs">D16</text>
<line x1="46.50" y1="631.00" x2="46.50" y2="636.50" stroke="#000" stroke-width="1.04"/>
<text x="46.50" y="648.80" font-size="11.02" fill="#000" text-anchor="middle" textLength="14.62" lengthAdjust="spacingAndGlyphs">D1</text>
<line x1="77.50" y1="631.00" x2="77.50" y2="636.50" stroke="#000" stroke-width="1.04"/>
<text x="77.50" y="648.80" font-size="11.02" fill="#000" text-anchor="middle" textLength="14.62" lengthAdjust="spacingAndGlyphs">D2</text>
<line x1="108.50" y1="631.00" x2="108.50" y2="636.50" stroke="#000" stroke-width="1.04"/>
<text x="108.50" y="648.80" font-size="11.02" fill="#000" text-anchor="middle" textLength="14.62" lengthAdjust="spacingAndGlyphs">D3</text>
<line x1="139.50" y1="631.00" x2="139.50" y2="636.50" stroke="#000" stroke-width="1.04"/>
<text x="139.50" y="648.80" font-size="11.02" fill="#000" text-anchor="middle" textLength="14.62" lengthAdjust="spacingAndGlyphs">D4</text>
<line x1="170.50" y1="631.00" x2="170.50" y2="636.50" stroke="#000" stroke-width="1.04"/>
<text x="170.50" y="648.80" font-size="11.02" fill="#000" text-anchor="middle" textLength="14.62" lengthAdjust="spacingAndGlyphs">D5</text>
<line x1="201.50" y1="631.00" x2="201.50" y2="636.50" stroke="#000" stroke-width="1.04"/>
<text x="201.50" y="648.80" font-size="11.02" fill="#000" text-anchor="middle" textLength="14.62" lengthAdjust="spacingAndGlyphs">D6</text>
<line x1="233.50" y1="631.00" x2="233.50" y2="636.50" stroke="#000" stroke-width="1.04"/>
<text x="233.50" y="648.80" font-size="11.02" fill="#000" text-anchor="middle" textLength="14.62" lengthAdjust="spacingAndGlyphs">D7</text>
<line x1="264.50" y1="631.00" x2="264.50" y2="636.50" stroke="#000" stroke-width="1.04"/>
<text x="264.50" y="648.80" font-size="11.02" fill="#000" text-anchor="middle" textLength="14.62" lengthAdjust="spacingAndGlyphs">D8</text>
<line x1="295.50" y1="631.00" x2="295.50" y2="636.50" stroke="#000" stroke-width="1.04"/>
<text x="295.50" y="648.80" font-size="11.02" fill="#000" text-anchor="middle" textLength="14.62" lengthAdjust="spacingAndGlyphs">D9</text>
<line x1="326.50" y1="631.00" x2="326.50" y2="636.50" stroke="#000" stroke-width="1.04"/>
<text x="326.50" y="648.80" font-size="11.02" fill="#000" text-anchor="middle" textLength="21.24" lengthAdjust="spacingAndGlyphs">D10</text>
<line x1="357.50" y1="631.00" x2="357.50" y2="636.50" stroke="#000" stroke-width="1.04"/>
<text x="357.50" y="648.80" font-size="11.02" fill="#000" text-anchor="middle" textLength="21.24" lengthAdjust="spacingAndGlyphs">D11</text>
<line x1="388.50" y1="631.00" x2="388.50" y2="636.50" stroke="#000" stroke-width="1.04"/>
<text x="388.50" y="648.80" font-size="11.02" fill="#000" text-anchor="middle" textLength="21.24" lengthAdjust="spacingAndGlyphs">D12</text>
<line x1="420.50" y1="631.00" x2="420.50" y2="636.50" stroke="#000" stroke-width="1.04"/>
<text x="420.50" y="648.80" font-size="11.02" fill="#000" text-anchor="middle" textLength="21.24" lengthAdjust="spacingAndGlyphs">D13</text>
<line x1="451.50" y1="631.00" x2="451.50" y2="636.50" stroke="#000" stroke-width="1.04"/>
<text x="451.50" y="648.80" font-size="11.02" fill="#000" text-anchor="middle" textLength="21.24" lengthAdjust="spacingAndGlyphs">D14</text>
<line x1="482.50" y1="631.00" x2="482.50" y2="636.50" stroke="#000" stroke-width="1.04"/>
<text x="482.50" y="648.80" font-size="11.02" fill="#000" text-anchor="middle" textLength="21.24" lengthAdjust="spacingAndGlyphs">D15</text>
<line x1="513.50" y1="631.00" x2="513.50" y2="636.50" stroke="#000" stroke-width="1.04"/>
<text x="513.50" y="648.80" font-size="11.02" fill="#000" text-anchor="middle" textLength="21.24" lengthAdjust="spacingAndGlyphs">D16</text>
<text x="279.40" y="11.10" font-size="16.96" fill="#000" text-anchor="middle" textLength="206.74" lengthAdjust="spacingAndGlyphs">Latent Space Correlations</text>
<defs><linearGradient id="cg" x1="0" y1="1" x2="0" y2="0"><stop offset="0.0000" stop-color="#3b4cc0"/><stop offset="0.0250" stop-color="#4257c9"/><stop offset="0.0500" stop-color="#4961d2"/><stop offset="0.0750" stop-color="#516ddb"/><stop offset="0.1000" stop-color="#5977e3"/><stop offset="0.1250" stop-color="#6282ea"/><stop offset="0.1500" stop-color="#6a8bef"/><stop offset="0.1750" stop-color="#7295f4"/><stop offset="0.2000" stop-color="#7b9ff9"/><stop offset="0.2250" stop-color="#84a7fc"/><stop offset="0.2500" stop-color="#8db0fe"/><stop offset="0.2750" stop-color="#96b7ff"/><stop offset="0.3000" stop-color="#9ebeff"/><stop offset="0.3250" stop-color="#a7c5fe"/><stop offset="0.3500" stop-color="#afcafc"/><stop offset="0.3750" stop-color="#b9d0f9"/><stop offset="0.4000" stop-color="#c0d4f5"/><stop offset="0.4250" stop-color="#c7d7f0"/><stop offset="0.4500" stop-color="#cfdaea"/><stop offset="0.4750" stop-color="#d6dce4"/><stop offset="0.5000" stop-color="#dddcdc"/><stop offset="0.5250" stop-color="#e3d9d3"/><stop offset="0.5500" stop-color="#e9d5cb"/><stop offset="0.5750" stop-color="#eed0c0"/><stop offset="0.6000" stop-color="#f2cbb7"/><stop offset="0.6250" stop-color="#f5c4ac"/><stop offset="0.6500" stop-color="#f6bda2"/><stop offset="0.6750" stop-color="#f7b599"/><stop offset="0.7000" stop-color="#f7ac8e"/><stop offset="0.7250" stop-color="#f6a385"/><stop offset="0.7500" stop-color="#f4987a"/><stop offset="0.7750" stop-color="#f18f71"/><stop offset="0.8000" stop-color="#ee8468"/><stop offset="0.8250" stop-color="#e9785d"/><stop offset="0.8500" stop-color="#e36c55"/><stop offset="0.8750" stop-color="#dd5f4b"/><stop offset="0.9000" stop-color="#d65244"/><stop offset="0.9250" stop-color="#cf453c"/><stop offset="0.9500" stop-color="#c53334"/><stop offset="0.9750" stop-color="#bd1f2d"/><stop offset="1.0000" stop-color="#b40426"/></linearGradient></defs>
<rect x="560.50" y="19.50" width="31.00" height="611.00" fill="url(#cg)" stroke="#000" stroke-width="1.04"/>
<line x1="591.50" y1="19.50" x2="596.00" y2="19.50" stroke="#000" stroke-width="1.04"/>
<text x="601.00" y="24.64" font-size="13.78" fill="#000" textLength="28.95" lengthAdjust="spacingAndGlyphs">1.00</text>
<line x1="591.50" y1="96.50" x2="596.00" y2="96.50" stroke="#000" stroke-width="1.04"/>
<text x="601.00" y="102.05" font-size="13.78" fill="#000" textLength="28.95" lengthAdjust="spacingAndGlyphs">0.75</text>
<line x1="591.50" y1="174.50" x2="596.00" y2="174.50" stroke="#000" stroke-width="1.04"/>
<text x="601.00" y="179.45" font-size="13.78" fill="#000" textLength="28.95" lengthAdjust="spacingAndGlyphs">0.50</text>
<line x1="591.50" y1="251.50" x2="596.00" y2="251.50" stroke="#000" stroke-width="1.04"/>
<text x="601.00" y="256.86" font-size="13.78" fill="#000" textLength="28.95" lengthAdjust="spacingAndGlyphs">0.25</text>
<line x1="591.50" y1="329.50" x2="596.00" y2="329.50" stroke="#000" stroke-width="1.04"/>
<text x="601.00" y="334.27" font-size="13.78" fill="#000" textLength="28.95" lengthAdjust="spacingAndGlyphs">0.00</text>
<line x1="591.50" y1="406.50" x2="596.00" y2="406.50" stroke="#000" stroke-width="1.04"/>
<text x="601.00" y="411.68" font-size="13.78" fill="#000" textLength="39.84" lengthAdjust="spacingAndGlyphs">−0.25</text>
<line x1="591.50" y1="483.50" x2="596.00" y2="483.50" stroke="#000" stroke-width="1.04"/>
<text x="601.00" y="489.08" font-size="13.78" fill="#000" textLength="39.84" lengthAdjust="spacingAndGlyphs">−0.50</text>
<line x1="591.50" y1="561.50" x2="596.00" y2="561.50" stroke="#000" stroke-width="1.04"/>
<text x="601.00" y="566.49" font-size="13.78" fill="#000" textLength="39.84" lengthAdjust="spacingAndGlyphs">−0.75</text>
</svg>
</body></html>
